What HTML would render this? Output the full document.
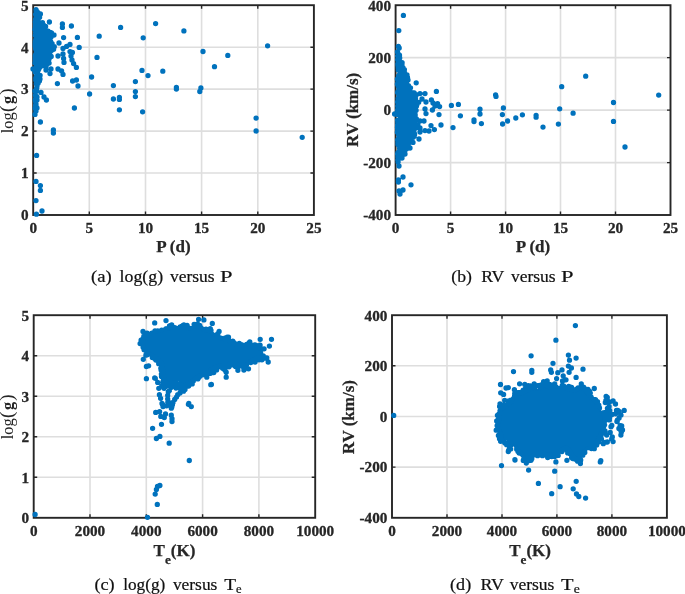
<!DOCTYPE html>
<html lang="en"><head><meta charset="utf-8"><title>Scatter plots: log(g) and RV versus P and Te</title>
<style>html,body{margin:0;padding:0;background:#fff}svg{display:block;will-change:transform}text{font-family:'Liberation Serif','Times New Roman',serif}</style></head><body>
<svg width="685" height="594" viewBox="0 0 685 594">
<rect width="685" height="594" fill="#fff"/>
<g id="plot-a">
<path d="M89.3 5.2V215M145.5 5.2V215M201.6 5.2V215M257.8 5.2V215M33.2 173H313.9M33.2 131.1H313.9M33.2 89.1H313.9M33.2 47.2H313.9" stroke="#dedede" stroke-width="1.6" fill="none"/>
<path d="M89.3 215v-3.5M89.3 5.2v3.5M145.5 215v-3.5M145.5 5.2v3.5M201.6 215v-3.5M201.6 5.2v3.5M257.8 215v-3.5M257.8 5.2v3.5M33.2 173h3.5M313.9 173h-3.5M33.2 131.1h3.5M313.9 131.1h-3.5M33.2 89.1h3.5M313.9 89.1h-3.5M33.2 47.2h3.5M313.9 47.2h-3.5" stroke="#262626" stroke-width="1.4" fill="none"/>
<rect x="33.2" y="5.2" width="280.7" height="209.8" fill="none" stroke="#262626" stroke-width="1.9"/>
<path d="M36 9.6h0M40.4 14h0M49.4 22h0M62.4 24h0M62.4 27.4h0M71.4 26h0M63.6 37.6h0M77.4 37.4h0M99.2 36.2h0M120.6 27.4h0M155.6 23.6h0M143.2 37.8h0M79.2 47.4h0M97 57.4h0M70 44.4h0M66.6 46.4h0M63 48.4h0M59 43h0M54 35h0M70 51.6h0M72.4 52.4h0M71 56h0M72 60h0M73.6 63.6h0M76.4 67.4h0M63 54h0M63.6 58.4h0M64 62.4h0M58 56h0M58 69h0M61.6 71h0M63 74.4h0M51 69h0M50 73.6h0M46 70h0M33 69h0M91.6 77h0M72.6 81h0M76.4 80h0M78 86h0M57.4 83.6h0M113.4 85.6h0M135.4 81.6h0M142 70.4h0M148 75.6h0M162.8 71.2h0M89.6 94h0M113.4 99h0M119.4 97.4h0M119.4 99.4h0M135.4 91.6h0M135.4 96.6h0M74.4 108h0M119.4 109.8h0M142.6 111.8h0M41 92.4h0M44 97h0M46.4 100h0M37 97h0M37 100h0M40 79h0M37 86h0M36 105h0M37 108h0M36 111h0M35 114.4h0M40.4 122h0M53.4 130h0M53.4 133h0M36.6 155.4h0M36 181.4h0M40.4 185.6h0M40.4 190.4h0M36 200.6h0M42 211h0M36.4 214.2h0M183.9 30.9h0M203 51.5h0M227.8 55.4h0M214.5 66.7h0M176.4 87.3h0M176.4 89.1h0M200.9 88h0M199.8 91.5h0M267.6 45.8h0M256.1 118.1h0M256.1 131h0M302.2 137.3h0M38 59.8h0M36.5 38.8h0M36.5 89.8h0M38 32.6h0M35.5 55h0M42.3 36.2h0M40 31.4h0M47.3 48.6h0M48.5 47.2h0M35 29.3h0M36.2 71.6h0M47.5 35.4h0M36.4 41.7h0M36.9 33h0M36.6 14.2h0M43.9 53.3h0M37.1 73.1h0M36.9 50.6h0M38.4 35.4h0M38.4 47.9h0M38.4 34.2h0M47.4 41.4h0M36.4 66.9h0M38.9 68.8h0M40.9 53.9h0M37.9 23.7h0M39 27.3h0M35.6 105.2h0M44.5 37.8h0M36.1 31.2h0M44.8 36.4h0M35.3 35.3h0M37.8 45.4h0M37.2 11.7h0M35.3 99.9h0M35.3 72.3h0M36.2 63.2h0M45 46.7h0M36.3 72.7h0M46.7 47.4h0M36.3 83.8h0M35.5 68.8h0M42.7 31.4h0M46.2 58.3h0M38.2 25.3h0M38.2 51.6h0M49.1 46.9h0M44.3 40.1h0M37.2 58.2h0M39.4 25.2h0M42.2 35.9h0M38.4 49.9h0M45 58h0M36.2 11.4h0M35.3 21.9h0M37.3 12.9h0M45.1 53.2h0M42.6 26.2h0M35.2 55.8h0M39.4 43.1h0M37.1 53.9h0M48.7 43.3h0M36.3 52.6h0M37.2 23.2h0M38.5 61.3h0M45.2 60.9h0M40 46.6h0M44.2 28.5h0M43.6 58.9h0M44 57.7h0M43.6 49.9h0M39.3 55.9h0M37 51.9h0M42.6 40.2h0M38.1 70.5h0M38.1 31.1h0M46 40.7h0M36.7 81.9h0M37 59.7h0M39 28.1h0M43.5 52.2h0M41 49.9h0M49.4 40h0M48.3 50.7h0M35.3 28.5h0M38 15.3h0M36.7 12h0M43.8 60.1h0M38 28.8h0M36 104.1h0M40.2 55.3h0M43.2 51.6h0M37.9 54h0M46.8 49.1h0M38.1 24.8h0M45.1 49h0M44.6 59h0M48 49.1h0M47.2 49.1h0M40.5 55.5h0M35.2 44h0M45.7 42.3h0M43.5 47.5h0M39.1 48.7h0M35.8 27.9h0M43.8 59.4h0M35.7 102h0M37.6 55.8h0M37.7 58.1h0M40.8 37h0M36.2 99.5h0M41.9 56.3h0M46.6 55.4h0M45 54.1h0M38.3 13.4h0M42.3 34.6h0M44.3 50.5h0M46.7 32.2h0M40.7 35.6h0M35.6 14.3h0M39.3 51.1h0M36.4 76.4h0M41 56.4h0M38.4 42.8h0M36.2 20.3h0M41.8 34.2h0M48 45.4h0M40.2 63.5h0M41.8 45.4h0M36.6 96.4h0M36.3 16.6h0M44 57.1h0M46 38.3h0M36.3 38.8h0M39.5 22.6h0M47.8 38.9h0M40.1 48.5h0M39 44.7h0M40.8 44.8h0M41.3 47.3h0M38.1 65h0M49.1 36.6h0M35.4 60.2h0M36.3 16.4h0M36.4 72.1h0M37.3 83.4h0M45.4 32.9h0M41.3 42.3h0M42.9 62.4h0M49.6 49.6h0M47.8 50.7h0M41 25.1h0M38.3 51h0M35.9 39.3h0M36.8 73.5h0M36 54.4h0M35.6 19.2h0M38 30.1h0M44.5 30.8h0M38 36.5h0M40 63.5h0M48.1 56.5h0M49.6 42.7h0M42.7 30.5h0M35.8 103.7h0M47.8 47h0M43.4 60.2h0M45.5 32.2h0M35.2 55.8h0M37.5 24h0M40.1 34.3h0M39.3 62.1h0M35 91h0M36.3 35.4h0M42.7 55.4h0M48.7 38.8h0M47.6 50.2h0M43.7 61.2h0M40 39.5h0M36.2 39h0M36.7 47.9h0M35.2 46.2h0M46.4 32.1h0M44 54.4h0M35.2 108.2h0M44.9 37.5h0M41 62.6h0M39.8 42.2h0M39.1 28.4h0M46.7 41.4h0M46.6 41.6h0M37.3 17.7h0M37.9 48.7h0M36.4 31h0M37.5 20.7h0M41.2 41.6h0M35.3 41.6h0M36.7 46.3h0M40.6 58.6h0M37.3 80.1h0M36.3 32.9h0M40.8 54.9h0M44 34.8h0M38.9 66h0M35.5 26.4h0M45.5 39.2h0M38.2 55.4h0M37.3 47.1h0M43.3 34.8h0M44.1 41.7h0M42.5 49.7h0M41.5 51.9h0M43.4 61.1h0M47 38.9h0M37 53.3h0M43 48.2h0M35.8 78.2h0M43.4 32.3h0M39.9 48.1h0M36.6 88.1h0M37 62.4h0M38.9 38.4h0M41.4 44.1h0M35.5 98.8h0M39.9 58.4h0M42.6 29h0M48.4 43.9h0M42.6 25.5h0M35.8 18.9h0M46.6 39.7h0M38.6 39.2h0M37.9 31.9h0M38.7 38.5h0M42 61.5h0M44.6 36.9h0M36.4 36.9h0M47.1 33h0M39.5 63.4h0M43 26.3h0M44.7 31.9h0M38.8 57.5h0M38.5 66.7h0M37.9 23.5h0M35.3 58.2h0M42 52.7h0M36.2 99.7h0M37.3 39.5h0M35.7 39.9h0M44.9 61.2h0M39.2 67.5h0M36.4 90.9h0M37.7 33.9h0M37.6 77.8h0M36 49.6h0M40.8 30h0M35.6 32.5h0M41.3 38.2h0M35.5 108.6h0M38.7 33.7h0M43.8 32.6h0M40.8 42.2h0M35.6 48.8h0M38.4 43.2h0M37.9 63.6h0M37.6 28.7h0M38.4 55.3h0M39.9 53.3h0M46.1 44.8h0M37.9 34.6h0M46.4 35.3h0M40.8 23.7h0M50 44.5h0M40.2 46.9h0M36.3 97.1h0M41.3 32.2h0M35.7 23.4h0M40 50.9h0M46.3 34.4h0M37.4 28.8h0M41.5 47.2h0M39.7 43h0M35.4 71.7h0M41.8 47.8h0M36 46.8h0M40.3 58.3h0M39.5 24.2h0M41.4 56.1h0M37.7 75.3h0M38.8 17.6h0M40.5 50.8h0M37.4 66.9h0M41.3 44.9h0M36 49h0M35.9 58.2h0M44.4 55.5h0M40.2 33.7h0M35.4 43.2h0M38 55.5h0M41.6 50.1h0M49.1 46.7h0M37.2 59.3h0M39.9 44.5h0M38.1 31.2h0M45.9 31.8h0M35 63h0M41.3 32.3h0M37.6 70.9h0M40.9 37h0M38.8 33.3h0M40.2 26.1h0M36 15.1h0M36.6 79.2h0M36.8 53.7h0M47.4 56.7h0M39.1 59.4h0M47.7 47.7h0M46.5 33.6h0M46.5 41.1h0M44.1 50.6h0M37 46.2h0M45.7 31.5h0M46 50.5h0M45.1 48.2h0M35.8 80.1h0M36.9 12.5h0M43.7 56.9h0M41 39.4h0M39.5 47.7h0M37.8 19h0M45 35.8h0M38.6 56.8h0M40.9 34.4h0M35.8 14.7h0M49.3 39.4h0M36.3 26.6h0M42.7 50h0M47.9 48.1h0M35.9 63.7h0M35.4 25.2h0M36.9 15.7h0M40 60h0M35.2 29.4h0M50.2 48.7h0M46.3 33.4h0M44.2 31.1h0M41.2 45.4h0M40.7 36.3h0M49.5 40.6h0M36.5 41.9h0M36.7 22.6h0M40.6 51.6h0M35.2 58.9h0M41.5 40.6h0M38.5 49.3h0M37.9 44.2h0M45.2 46.3h0M46 53.9h0M45.6 50.5h0M41.2 31.4h0M45 53.2h0M46.8 39.7h0M42.9 31.8h0M42.3 62.3h0M36.2 64.1h0M47.6 57.7h0M35.6 43.1h0M36.9 26.5h0M36.2 107.8h0M40.4 40h0M45.1 36.3h0M37.9 21.1h0M46.1 55.2h0M37.1 19.9h0M40.7 28h0M46.8 44.5h0M40 49.4h0M37.3 71.8h0M41.5 54.2h0M38.8 66.6h0M45.8 54.1h0M49.9 47.3h0M41.7 36.6h0M45.8 32.9h0M41.7 42.6h0M36.4 44.8h0M45.7 42.9h0M35.4 72h0M42.5 44.7h0M42.4 40.1h0M36.1 54.8h0M38.4 45.5h0M37.3 48h0M37.7 73.6h0M36.9 55.4h0M35.3 94.9h0M35.4 43.6h0M43.6 62h0M36.8 87.8h0M39.8 59.3h0M37 65.4h0M45.5 62.6h0M37.2 40h0M49.4 58.1h0M47 62.9h0M39.6 45.2h0M38.1 75.5h0M38.3 65h0M43.1 42.4h0M38.1 83.2h0M39 43.9h0M39.4 35h0M40.1 75.3h0M44.2 43.5h0M47.7 48.1h0M43.4 39.1h0M39 28.8h0M43.5 50.9h0M51.6 50h0M37.5 75.8h0M44.7 51.5h0M41 44.2h0M38.8 54h0M40.2 65.7h0M37.7 32.1h0M43.2 61h0M37.9 46.7h0M40.8 32.6h0M43.6 25.1h0M37.1 31.5h0M50.9 37.3h0M37.7 59.5h0M41.1 52.2h0M45.6 60.2h0M46.3 65.7h0M42.1 30.4h0M39.4 80.9h0M44.6 29.3h0M47.1 60h0M50.7 43.4h0M51.2 56.4h0M43.3 39.5h0M50.2 55.1h0M37.3 66.8h0M43.4 35h0M46.7 59.8h0M39.2 52.7h0M49.6 41.5h0M41.4 42.6h0M42.8 64.8h0M39.6 17.2h0M42.6 65.7h0M37.5 49h0M49 37.3h0M41.3 36.2h0M43.5 32.4h0M40.6 44.6h0M46 65.8h0M39.9 47.2h0M41.5 46.8h0M41.1 53h0M50.7 41.6h0M49.1 63.1h0M49.3 38h0M50.2 35.8h0M46 38.9h0M41.1 53.5h0M51.5 32.9h0M39.3 61.3h0M51.1 43h0M48.1 31.1h0M44.3 40.4h0M43.9 42h0M40.7 30.4h0M38 76.8h0M37.4 34.7h0M37.2 23.7h0M39.9 67.3h0M42.3 25.2h0M40.3 35h0M38.8 64.8h0M46.7 45.9h0M46.5 62.1h0M51.4 50.4h0M48.4 47.4h0M48.4 41.1h0M44.5 51.3h0M49.9 32.3h0M53.6 49.3h0M44.7 42.5h0M38.1 18.7h0M38.5 14.5h0M37.2 30h0M39 64.8h0M45.6 26.5h0M50.6 43.9h0M46.8 35.3h0M47.8 63.5h0M37.2 28.3h0M43.1 40.5h0M48.2 52.9h0M43.5 28.4h0M43.9 59h0M39.3 53.3h0M41.5 43.5h0M38.8 69h0M46.9 57.7h0M47.4 40.3h0M42.6 38.4h0M46 46.8h0M40.1 42h0M40.7 35.8h0M43.6 38h0M43 62.6h0M44.2 51.3h0M40.1 45.1h0M41.2 25.7h0M48.5 61h0M47.6 48.3h0M54.3 46.7h0M45.4 38.8h0M41.3 52.1h0M50.1 50.1h0M48.9 59.3h0M49.9 38.4h0M52.1 43.7h0M42.7 30.7h0M37.9 19.3h0M42.5 22.7h0M39.2 76.6h0M43.8 49.2h0" stroke="#0072bd" stroke-width="5.3" stroke-linecap="round" fill="none"/>
<g font-size="15.2" font-weight="bold" fill="#262626" stroke="#262626" stroke-width="0.3">
<text x="33.2" y="233" text-anchor="middle">0</text>
<text x="89.3" y="233" text-anchor="middle">5</text>
<text x="145.5" y="233" text-anchor="middle">10</text>
<text x="201.6" y="233" text-anchor="middle">15</text>
<text x="257.8" y="233" text-anchor="middle">20</text>
<text x="313.9" y="233" text-anchor="middle">25</text>
<text x="28.6" y="220.3" text-anchor="end">0</text>
<text x="28.6" y="178.3" text-anchor="end">1</text>
<text x="28.6" y="136.4" text-anchor="end">2</text>
<text x="28.6" y="94.4" text-anchor="end">3</text>
<text x="28.6" y="52.5" text-anchor="end">4</text>
<text x="28.6" y="10.5" text-anchor="end">5</text>
</g>
</g>
<g id="plot-b">
<path d="M450.6 5.2V215M505.6 5.2V215M560.5 5.2V215M615.5 5.2V215M395.6 162.6H670.5M395.6 110.1H670.5M395.6 57.6H670.5" stroke="#dedede" stroke-width="1.6" fill="none"/>
<path d="M450.6 215v-3.5M450.6 5.2v3.5M505.6 215v-3.5M505.6 5.2v3.5M560.5 215v-3.5M560.5 5.2v3.5M615.5 215v-3.5M615.5 5.2v3.5M395.6 162.6h3.5M670.5 162.6h-3.5M395.6 110.1h3.5M670.5 110.1h-3.5M395.6 57.6h3.5M670.5 57.6h-3.5" stroke="#262626" stroke-width="1.4" fill="none"/>
<rect x="395.6" y="5.2" width="274.9" height="209.8" fill="none" stroke="#262626" stroke-width="1.9"/>
<path d="M403.4 15.4h0M398.8 30.6h0M398.4 46.4h0M402 64h0M404.4 69.6h0M407 77h0M408 80h0M416.2 82.8h0M436.4 91.4h0M420 93.6h0M425 93.6h0M416 95.6h0M422 99h0M426 102h0M431.4 100h0M433 103h0M437.6 103.6h0M439.6 106.6h0M435 106h0M432.4 110h0M425 109h0M426 113.6h0M415 114h0M439 114.6h0M451.4 105.4h0M458.4 104.4h0M460.4 115.8h0M480 109.2h0M480 114h0M495.6 95h0M496 96.4h0M503.4 108h0M502.4 114.6h0M522.4 114.8h0M515.8 118h0M394.6 114h0M507.6 121h0M502.6 124h0M481.4 123.6h0M474 120h0M474 121.6h0M453 127.6h0M441 125h0M434.4 129.6h0M431 125.6h0M429 131h0M425 130.6h0M420 128h0M420 132h0M424 121h0M420 121h0M419 139h0M413 142.4h0M410 148h0M405 154h0M402 158h0M399 166h0M403 177h0M398.4 180h0M398.4 182h0M411 184.8h0M403 190h0M399 191h0M400 194h0M536.1 115.5h0M536.1 117.2h0M543 127.1h0M558.4 124.1h0M559.7 108.8h0M561.7 86.7h0M573.1 113.2h0M585.7 76.2h0M613.5 102.5h0M613.5 121.4h0M625 147h0M658.7 95.1h0M412 116.7h0M402.6 68.8h0M411.5 115.9h0M409 119.5h0M402.6 139.7h0M399.8 145h0M398.2 109.8h0M397.9 157h0M405.8 108.1h0M404.2 125.3h0M403.6 115.9h0M402.3 117.5h0M406.4 98h0M408.6 109.4h0M403.3 97.8h0M413.2 107.4h0M406.5 87.9h0M402.8 88.9h0M406.3 141.5h0M404.2 145.4h0M412.7 101.3h0M411.5 105.8h0M406.1 116.1h0M405.3 133.3h0M397.7 106h0M400.2 129h0M404.6 78.3h0M398.1 162.1h0M401 76.6h0M403.1 134.2h0M398 91.3h0M400.8 104.8h0M403.7 136h0M409.3 101.7h0M401.5 73.7h0M412.2 123.5h0M398.3 105.9h0M403.1 149.7h0M403.7 122.8h0M400.3 142.3h0M412.2 112.2h0M403.4 147.8h0M411.3 107.2h0M403.7 74.3h0M399.9 112.9h0M411.8 117.8h0M406.2 138.1h0M397.8 159.8h0M398.5 67.4h0M407.7 134.8h0M402.1 74.6h0M398.4 157.1h0M404.8 85.9h0M400.3 103.2h0M404.3 88.5h0M398.1 160.1h0M399.5 74.7h0M405.4 142.2h0M403 91.7h0M412.6 115.9h0M405 121.7h0M398.2 128.3h0M410.8 126.5h0M403.4 80.3h0M397.6 55.8h0M400 100.4h0M405.2 122.3h0M412.7 116.2h0M402.4 74.7h0M403 93.8h0M401.7 150.2h0M406.2 127.8h0M406.9 118.2h0M401.4 112.5h0M403.3 141.8h0M408.7 131.7h0M403.6 123.9h0M404.7 143h0M399.1 90.5h0M398.8 106.2h0M401.6 99.3h0M404.9 129.7h0M400.4 149h0M398.2 60.8h0M398.6 145.2h0M404.5 133.9h0M401.2 142.4h0M403.1 113.2h0M399.8 154.7h0M412.8 107.4h0M404.9 92.2h0M398.6 120.3h0M402.2 119.6h0M402.1 123.1h0M398.1 144h0M402.6 145.9h0M397.7 59.6h0M401.7 136.9h0M410.6 121.7h0M402.5 125.7h0M398.8 102.3h0M401.1 68.6h0M397.6 153.9h0M410.8 109h0M412.1 103.4h0M397.8 64h0M402.6 149h0M401.2 88.3h0M412.2 103.8h0M404.5 137.9h0M403.1 76.8h0M399.4 81.4h0M401.3 134.2h0M403.3 130.8h0M402.5 93.1h0M400.9 64.7h0M398.2 104.4h0M404.3 138.2h0M397.4 132.2h0M405.5 101.7h0M406.6 106.4h0M407.3 127.2h0M408.9 106.9h0M402.5 142.1h0M404.4 146.1h0M399 59.4h0M403.9 75.8h0M402.3 117.8h0M402.8 78h0M401.9 138h0M398.6 134.7h0M404.3 135.3h0M410 135.3h0M403.6 144.1h0M405.5 108.9h0M403.3 104h0M405.6 128.2h0M406.5 128.1h0M407.3 117.3h0M404 96.3h0M406.9 90h0M397.7 125.4h0M409.9 132.8h0M404.1 102h0M398.2 67.8h0M400.9 71.8h0M398.9 56.3h0M409.9 107.8h0M399.6 140.1h0M399.5 55.2h0M402.6 149.6h0M400.7 107.9h0M406.4 132.7h0M401.2 115.2h0M402.1 68.1h0M404.9 142.4h0M406.6 88.6h0M401.1 89.1h0M404 78.6h0M402.6 73.3h0M402.3 126.8h0M407.8 121.2h0M412.7 125.9h0M399.6 94.4h0M406.1 135.6h0M405.3 124.6h0M410.4 99.5h0M405.8 136h0M399.2 108.8h0M407.3 113.2h0M397.8 82.6h0M407.1 98.8h0M412.3 121.7h0M403.7 94h0M399.1 114.1h0M410.4 105.8h0M409 134.6h0M402.9 122.5h0M400.4 125.5h0M404.5 120h0M405.5 131.8h0M402.4 99.6h0M407.9 109.8h0M409 93.5h0M411.5 104h0M407.6 95.6h0M398.9 128.5h0M402.8 98.2h0M404.8 80.8h0M412.1 103.4h0M398.1 122h0M403.7 123.4h0M405.8 109.6h0M398.9 77.4h0M405.4 116.8h0M402.1 95.7h0M405.8 136.2h0M412.3 109.7h0M407.9 123.5h0M399.5 132h0M403.8 79.6h0M399.1 155.3h0M412.2 109.4h0M400.2 114.9h0M403.6 89.6h0M408.7 102.2h0M399 138.7h0M401.4 94.3h0M398.5 122.9h0M400.4 155.3h0M411 110.1h0M397.5 127.5h0M399.6 152.2h0M397.7 129.7h0M402.2 150.4h0M405.1 131.5h0M398.2 139.2h0M400.7 97.5h0M405.5 85h0M401.4 99.7h0M398.3 64.9h0M399.6 148.5h0M404.7 104h0M408.6 104.8h0M401.8 133.9h0M401 92.1h0M397.8 84.8h0M400.6 93.4h0M398.3 70.1h0M410.8 129.4h0M409.1 99.9h0M402.8 123.9h0M401.5 133.6h0M399.4 113.5h0M406.9 110.1h0M398.7 112.8h0M399.5 109.2h0M408.7 130.5h0M397.6 109.8h0M400.3 106.8h0M405.6 104.6h0M400.7 121.8h0M400 142h0M402.3 124.6h0M397.7 130.1h0M402.6 145.5h0M398.7 87h0M407.9 108.5h0M404.3 82.7h0M403.8 99.9h0M397.7 140h0M412 101.6h0M407.8 110h0M404.8 100.8h0M397.9 113.3h0M398 121h0M411.1 97.6h0M398.8 123.4h0M410.9 111.2h0M403.4 125.5h0M397.6 101.9h0M399.5 128.9h0M405.4 144.2h0M404.8 132.3h0M399.8 136.7h0M410.3 126.6h0M400.2 85.5h0M402.1 81h0M407.1 89.5h0M407.5 115.5h0M404.6 134.2h0M404.7 88.5h0M411.8 108.7h0M409.2 124.1h0M399.5 91.7h0M405.1 94h0M403.7 78h0M402.8 69.3h0M405.7 122.4h0M405.4 93h0M412.1 116.9h0M400.6 82.8h0M403.9 113.9h0M403.7 77.9h0M406.3 132.9h0M405.5 109.6h0M407.9 121.9h0M399.1 124.8h0M400.6 131.6h0M404.4 146.3h0M404.5 96.2h0M409.5 123.4h0M397.9 152.7h0M399.2 48h0M403 69.3h0M401.4 104.2h0M405.8 127.6h0M411.8 129.4h0M411.8 97.7h0M399.9 131.2h0M407.6 92.4h0M405.3 89h0M403.5 135.2h0M397.4 79.1h0M397.6 120.2h0M401.8 84.1h0M403.6 130.1h0M400.6 80.5h0M398.8 94.9h0M407.2 118.1h0M408.1 110.4h0M412.8 103.6h0M399 139.2h0M397.5 52h0M409 118.9h0M397.6 114.4h0M402.8 73.9h0M397.9 142.6h0M400.3 66.6h0M406.7 98.3h0M398.6 54.4h0M402 143.8h0M412 109.8h0M398.8 120.9h0M412.8 114.3h0M404.6 99.3h0M405.6 95.7h0M404.6 124h0M406.6 91h0M397.7 92.4h0M402.1 139.1h0M399.7 57.9h0M398.6 75.8h0M398.8 130.6h0M399.7 97.9h0M408.3 99h0M402.2 100.4h0M405 115.4h0M413.4 120.3h0M400.6 70.3h0M400 98h0M411 111.9h0M401.8 100.4h0M398.3 122.1h0M403.3 129.4h0M405.7 104.9h0M400.1 66.9h0M399.3 68.8h0M399.9 124.1h0M412.2 117.8h0M401.2 112.2h0M405.5 91.9h0M401.9 113.3h0M408.1 131.9h0M412.6 124.3h0M408.2 127.9h0M408.6 129.3h0M398.3 111.8h0M412.1 105.9h0M401.4 120.7h0M398.2 124h0M401.6 78.9h0M400.6 120.4h0M410.9 100.9h0M408.6 105.5h0M409.9 95.8h0M410 93.3h0M400 126.9h0M398.8 57.9h0M402.4 118.7h0M400 119.6h0M404.4 115h0M399.3 90.2h0M409.4 101.1h0M403.7 99.4h0M401 134.3h0M408.3 118.9h0M404.1 86.3h0M397.6 124.9h0M408.2 133.7h0M399.5 139.7h0M407.4 116.9h0M408.2 120.1h0M399.9 63.8h0M397.4 84.1h0M401 117.4h0M399 61.6h0M406 140.4h0M408.6 120.2h0M400.2 101.1h0M404.8 122h0M407.2 137.6h0M398 101.6h0M400.1 105h0M398.6 155.1h0M412.3 112.8h0M405 102.2h0M400.8 98.8h0M405.8 81.7h0M398 120.3h0M410.2 102.2h0M401.5 104.5h0M402.2 105.6h0M397.9 65.3h0M412.7 101.9h0M408.5 136h0M414.3 120.2h0M411.6 123.7h0M413.8 96.2h0M409.8 128h0M407.6 134.3h0M410.2 104.8h0M401.3 91.3h0M399.9 66.7h0M398.2 86h0M404.5 96.3h0M403.6 89.2h0M414.2 115.8h0M403 67.7h0M414.3 133.1h0M398.6 101.4h0M397.9 144.2h0M413.6 93.7h0M401.6 64.3h0M407.5 77.4h0M402.1 67.3h0M402.9 102h0M416.9 104.5h0M404.8 153.3h0M412.3 101h0M403.8 100.6h0M414.1 116.7h0M399.7 124.8h0M404.6 117h0M409.5 115.1h0M402.5 117.1h0M407.6 105h0M405.5 141.6h0M400.5 150.5h0M401.8 130.2h0M401.1 105h0M412.5 108.3h0M412.3 114.8h0M409.4 113.3h0M403.8 154h0M399.3 151.6h0M416.1 110.3h0M414.2 129.4h0M410.5 87.8h0M404.3 94.1h0M404.8 98.2h0M406.5 145h0M407.7 116.4h0M402.9 86.3h0M399.3 79.7h0M403.1 148.9h0M409.6 104.2h0M398.3 144h0M403.4 95.5h0M400.6 147.3h0M399.4 136.5h0M405.9 130.1h0M417.2 127.4h0M397.8 122.6h0M400.4 135.8h0M407.5 133.3h0M409.7 140h0M415.1 121.7h0M410.2 91.6h0M400.3 66.1h0M406.6 90.5h0M410.8 114.1h0M416 103.5h0M405.2 127h0M404.1 152.6h0M400.2 97.4h0M398.3 99.1h0M404.2 102.6h0M415.2 120.2h0M406.4 82.8h0M404.2 129.1h0M407 74.9h0M415.1 118.7h0M410.9 102.6h0M415.5 98.7h0M398.1 98.6h0M412.7 128.9h0M403.3 74.4h0M410.1 112.1h0M398.9 107.6h0M400.5 125.9h0M404.1 123.7h0M413.6 122.1h0M403.2 87h0M408.1 115.5h0M414.5 118.1h0M399.8 146.2h0M399.1 64.9h0M414.6 134.5h0M408.5 85.7h0M401.7 136.1h0M402.1 62.7h0M409.7 118.3h0M414.6 125.4h0M400.4 142.9h0M405 119.6h0M406.4 149h0M399.2 91.6h0M411.9 122.7h0M400.5 71.2h0M410.7 102.6h0M408.3 144.2h0M408.7 114.5h0M403.2 121.4h0M400.2 111.4h0M405.1 78.4h0M402.8 96.3h0M416.5 106.1h0M400.8 116h0M414.2 136.2h0M400.7 117.2h0M411.2 138.7h0M413.3 106.6h0M414.2 92.8h0M399.4 102.7h0M407.8 142.4h0M406.1 128.6h0M405.5 135.9h0M401.2 151.9h0M417.9 125.1h0M403.8 113.8h0M411.1 123.7h0M406 136.6h0M410.4 99.9h0M404.7 72.8h0M397.6 92.6h0M407.9 94.2h0M403.3 68.7h0M418.7 102.3h0M399.4 124.3h0M413.2 137.3h0M413.2 93h0M409.1 120.1h0M405.5 90.3h0M398.7 68.6h0M399.9 103.4h0M416.1 94.7h0M399.6 129h0M404.6 118.3h0M413.5 105.7h0M413.2 123.5h0M403.5 111h0M415.2 115h0M407.7 135.2h0M406.9 81h0M416.5 127.6h0M416.4 118.9h0M410.1 138.7h0M410.6 103.4h0M401.8 98.2h0" stroke="#0072bd" stroke-width="5.3" stroke-linecap="round" fill="none"/>
<g font-size="15.2" font-weight="bold" fill="#262626" stroke="#262626" stroke-width="0.3">
<text x="395.6" y="233" text-anchor="middle">0</text>
<text x="450.6" y="233" text-anchor="middle">5</text>
<text x="505.6" y="233" text-anchor="middle">10</text>
<text x="560.5" y="233" text-anchor="middle">15</text>
<text x="615.5" y="233" text-anchor="middle">20</text>
<text x="670.5" y="233" text-anchor="middle">25</text>
<text x="391" y="220.3" text-anchor="end">-400</text>
<text x="391" y="167.9" text-anchor="end">-200</text>
<text x="391" y="115.4" text-anchor="end">0</text>
<text x="391" y="62.9" text-anchor="end">200</text>
<text x="391" y="10.5" text-anchor="end">400</text>
</g>
</g>
<g id="plot-c">
<path d="M90 315.2V517.8M146.3 315.2V517.8M202.6 315.2V517.8M258.9 315.2V517.8M33.7 477.3H315.2M33.7 436.8H315.2M33.7 396.2H315.2M33.7 355.7H315.2" stroke="#dedede" stroke-width="1.6" fill="none"/>
<path d="M90 517.8v-3.5M90 315.2v3.5M146.3 517.8v-3.5M146.3 315.2v3.5M202.6 517.8v-3.5M202.6 315.2v3.5M258.9 517.8v-3.5M258.9 315.2v3.5M33.7 477.3h3.5M315.2 477.3h-3.5M33.7 436.8h3.5M315.2 436.8h-3.5M33.7 396.2h3.5M315.2 396.2h-3.5M33.7 355.7h3.5M315.2 355.7h-3.5" stroke="#262626" stroke-width="1.4" fill="none"/>
<rect x="33.7" y="315.2" width="281.5" height="202.6" fill="none" stroke="#262626" stroke-width="1.9"/>
<path d="M35.1 514.5h0M147.5 517.3h0M157.3 504.4h0M155.2 494.1h0M156.4 489.5h0M157.5 486.4h0M159.9 485.5h0M189.3 460.5h0M169.2 443.2h0M156.4 438.5h0M159.9 436.4h0M152.6 428.3h0M161.5 424.3h0M172 421.5h0M172 418.7h0M171.3 415.2h0M164.3 417.5h0M160.8 416.4h0M165.5 414h0M159.6 411.7h0M155.7 412.4h0M171.3 408.2h0M166.6 405.8h0M163.1 406.5h0M172.5 403.5h0M167.8 402.3h0M162 403.5h0M188.8 403.5h0M188.4 404.3h0M191.3 406.6h0M155.3 378.3h0M157.7 382.4h0M158.8 388.3h0M159.4 394.7h0M160.6 398.3h0M162.4 404.2h0M163 406.5h0M164.1 388.3h0M168.3 391.8h0M169.4 390.6h0M167.7 395.3h0M167.7 398.9h0M168.3 401.8h0M171.2 405.3h0M171.8 407.1h0M183.6 391.2h0M180 393h0M177.7 394.7h0M176.5 397.1h0M174.7 399.5h0M173 402.4h0M172.4 404.8h0M161.8 386h0M165.5 386.5h0M171 387.5h0M176 388h0M180.5 389h0M185 389.5h0M154.7 322.9h0M166 320.6h0M198.6 319.3h0M203.9 319.9h0M212.3 323.4h0M219.1 331.4h0M143 331.5h0M143.3 359.3h0M146.4 366.5h0M148.6 365.8h0M146.4 378.7h0M154.7 377.9h0M210.8 384.7h0M213.8 372.6h0M260.2 339.3h0M271.5 339.3h0M269.4 346.1h0M268.2 362h0M248.5 368.8h0M243.9 370h0M237.9 370.3h0M225 370.3h0M226.2 377.2h0M211.4 384.4h0M206.8 377.2h0M226.2 372.2h0M212.6 364h0M222.7 363.1h0M207.4 352.3h0M179.2 343.8h0M194.7 377.4h0M177.1 337.8h0M157.1 344.6h0M171.9 341.5h0M179.6 349.1h0M164.8 331.4h0M234.6 359.5h0M157.2 333.8h0M156.7 344.3h0M149 341.7h0M167 336.6h0M223 353.1h0M200.6 346.9h0M180.1 328.9h0M201.6 348.2h0M209.1 352.2h0M181 380.1h0M203.3 362.8h0M199.3 350.9h0M204.8 340.8h0M191.1 374.7h0M182.2 331.1h0M164.8 369h0M219.1 342.4h0M195.7 375.1h0M235 361.2h0M170.1 330.3h0M175.4 361h0M213 336.9h0M237.7 360.4h0M170.1 331.5h0M187.3 374.5h0M218.6 344.9h0M157.7 345.3h0M183.9 355.5h0M197.7 337.1h0M152 337.2h0M157.7 330.8h0M193.3 332.6h0M241.2 358.5h0M198.9 364.4h0M151.6 345.6h0M186.7 340.3h0M179.9 376.6h0M189.4 342.1h0M147.1 334.5h0M183 375.1h0M146.9 339.3h0M240.5 356.7h0M239.8 348.6h0M166.6 379.7h0M195.2 375.3h0M177.1 370.1h0M170.9 366.3h0M196.9 349.5h0M161.5 338.2h0M189.5 354.3h0M163.6 351h0M158.6 357.1h0M253.5 357.7h0M189.3 361.2h0M203.1 356.2h0M180.4 358.3h0M209.3 342.2h0M171.1 340.4h0M179.6 378.2h0M179.5 376.2h0M197.7 376h0M172.3 362.1h0M185.3 332h0M145.7 344.3h0M209.8 342h0M244.1 365.1h0M182.6 365.1h0M185.4 342.6h0M193.7 344.3h0M253.9 351.6h0M205.2 346.7h0M173.4 339.7h0M210.1 370.6h0M225.1 340.7h0M195.4 345.4h0M163.8 375.1h0M188.1 343.3h0M178.6 344.8h0M214.9 344h0M208.3 361h0M181.5 378.7h0M192.9 334.9h0M219.5 342.6h0M162.3 357.8h0M166.7 364.5h0M183.7 369.7h0M235.5 346.2h0M210.1 349.5h0M220 365h0M233.8 348.3h0M241.5 347.3h0M227.8 355.6h0M177.6 364.4h0M252.7 346.9h0M167.9 371.8h0M159.1 331.5h0M172.6 373.9h0M147.6 337.6h0M209.7 371.9h0M203.1 367.5h0M186.5 348.1h0M166.7 346.4h0M222.6 350.2h0M243.3 359.4h0M195 349h0M173.6 347.3h0M155.9 345.4h0M255.2 358.7h0M163.4 354.7h0M191.2 373.4h0M203 329.5h0M191.5 375.1h0M250.2 345.8h0M188.7 363.2h0M156.7 343.7h0M187.9 337.4h0M164.8 365.3h0M180.3 328.1h0M169.6 367.3h0M152.1 338.3h0M162.2 364.6h0M250.4 361h0M169.8 334.7h0M242.3 349.7h0M164.9 351.2h0M150.4 337.4h0M237.9 352h0M181.4 384.5h0M158.2 351.4h0M239.2 361.1h0M201.4 375h0M182.7 352.9h0M249.2 357.5h0M199.6 373.1h0M196.7 350.4h0M233 347.5h0M203.4 349.4h0M199.2 360.8h0M187.9 384.6h0M229.1 348.5h0M211.6 347.1h0M253.3 347h0M183.9 340.9h0M245.8 348h0M184.6 384h0M228.1 345.6h0M181.9 343.9h0M162.8 374.1h0M237.9 348.3h0M195.4 345.5h0M193 368.2h0M260.3 347.9h0M192.1 342.2h0M176.3 347.3h0M190.3 350.4h0M172.1 361.7h0M169.4 340.9h0M176 335.9h0M238 361h0M166.7 364.1h0M171.4 376.2h0M187.7 363.8h0M180.4 343.3h0M214.2 357.3h0M235.2 353h0M252.8 348.4h0M170.8 365.3h0M199.6 352.6h0M232.1 362.4h0M165.6 353.5h0M195.9 333.8h0M234 343.4h0M174.8 345.1h0M180.2 326.9h0M160.4 341.8h0M183.1 369.1h0M213 361.4h0M241.8 358h0M206.9 343.5h0M174.1 358.3h0M192.6 380.6h0M155.3 339.8h0M219.5 347h0M242.2 353.5h0M215 352.9h0M191.8 335.1h0M203.4 341.1h0M179.5 365.2h0M203.9 365.9h0M213.1 362.9h0M173.7 382.3h0M193.5 365.1h0M178.6 356.7h0M226.5 353.5h0M150 349.7h0M172.7 366.2h0M208.3 332.6h0M228.7 340.5h0M184.1 347.9h0M209.5 352.4h0M205.4 364.1h0M164.5 374.5h0M211.8 358.3h0M174.8 378.6h0M165.6 341.7h0M244.4 352.9h0M184.7 346h0M176.5 369.6h0M170.2 329.7h0M248.5 360.4h0M183.4 343.5h0M183.1 353.9h0M213.5 336.9h0M200.9 363.9h0M239.5 359.4h0M206 364.3h0M190.9 360.5h0M204.7 346.2h0M200.2 328.2h0M217.7 339.3h0M174.8 334.1h0M235 352.9h0M213.9 356.5h0M214.7 347h0M174 372.4h0M159.4 346.5h0M169.8 351.4h0M203.9 363.7h0M181.4 349.5h0M169.1 356.2h0M174.1 382.3h0M168.7 338.5h0M184.3 344.9h0M184.5 349.1h0M192.6 331.5h0M169.6 332.9h0M146.1 335.9h0M206 363.5h0M161.5 340.6h0M166.2 328.8h0M144.8 340.1h0M185.5 378.2h0M154.5 352h0M164.2 356.9h0M187.3 345.4h0M165.6 361.2h0M228.5 362.2h0M199.6 370.1h0M168.2 337.6h0M170.4 382.3h0M166.2 351.3h0M178 377h0M202.6 357.5h0M228.1 365.6h0M187.8 339.9h0M153.7 354.3h0M228.8 351.7h0M197.6 374.3h0M240.6 363.4h0M187.7 342.8h0M198.2 345.1h0M205.6 364.9h0M190.4 372.7h0M249.5 354.7h0M229.5 364.5h0M238 364.8h0M213.2 366h0M216 350.7h0M162.9 336h0M175.7 367.3h0M193 375.3h0M181.4 377h0M198.9 348.5h0M183.1 384.8h0M195.6 351.4h0M220.8 355.5h0M214.3 345.9h0M158 348.8h0M237 363.9h0M162.4 349.6h0M197 365.9h0M204.2 357.4h0M188.6 373.5h0M212.1 353.6h0M183 325.4h0M159.7 346.1h0M219.7 363.9h0M183 371.8h0M193.1 350.2h0M177.7 351.1h0M165.3 367.9h0M222.7 340.2h0M184.5 332.7h0M197.9 370.6h0M185.3 343.9h0M172.8 352.1h0M170.5 355.2h0M177.7 367.6h0M187.5 340.8h0M191 337.4h0M144.4 348.2h0M222.7 364.9h0M195.7 336.6h0M159.3 348.3h0M206.2 352.8h0M250.1 351.1h0M162.2 361.5h0M253.2 359.7h0M185.5 337.8h0M159.7 350.4h0M200.3 348.8h0M203.7 343.2h0M204.1 348.9h0M167 347.8h0M214.8 353h0M255.4 352.5h0M169 370.4h0M183.3 348.3h0M177.6 358h0M145 350.1h0M188.2 331.7h0M188.8 328.6h0M202.4 334.7h0M169.1 333.5h0M208.4 364h0M244.8 351.3h0M186.3 332h0M181.2 331.8h0M189.2 354.5h0M174.3 377.9h0M220.8 355.8h0M219.1 359.2h0M192.3 337.2h0M148.4 345.3h0M203.9 340h0M164.4 332h0M227.6 339.5h0M173.3 380.9h0M243.3 352.7h0M177.4 333.2h0M174.6 383h0M181.9 327.2h0M150.4 348.3h0M238.3 347.1h0M171.4 344.9h0M207.9 349.6h0M146.5 346.9h0M250.4 348.2h0M186.5 380.1h0M172.9 362h0M247.5 352.9h0M162.4 334.9h0M159.9 339.1h0M249.9 348.5h0M171.3 357.8h0M145.8 337.7h0M188.2 338.6h0M212.2 357.7h0M178.4 345.2h0M201 353.8h0M172.1 336.9h0M201.9 359.2h0M168 355.6h0M207.3 334.1h0M198.9 336.5h0M159.6 360.3h0M242.2 357.3h0M158.3 335.8h0M249.6 359.6h0M176.2 348.7h0M159.8 360.7h0M166.3 346.5h0M184.3 363.7h0M243.1 353h0M185.6 331.9h0M159.7 341.2h0M220.1 346.7h0M175.9 337.6h0M151.1 353.1h0M219.2 365.3h0M146 338h0M191.6 352.3h0M219.7 346.1h0M183.3 385.9h0M173.1 337h0M148.7 347.8h0M214.9 347.3h0M211.8 364.8h0M191.7 365.6h0M206.4 372.5h0M195.8 368.1h0M188 345.6h0M220.8 352.5h0M187.2 351.8h0M189.5 345h0M188.9 359.7h0M159.1 347.8h0M223.2 347.4h0M199 352.9h0M182.9 355.7h0M220 355.8h0M167.3 341.3h0M196.6 333h0M213.4 340.8h0M231.9 361.6h0M171.4 342.2h0M208.1 362.6h0M252.8 357.8h0M166.4 329.9h0M196.4 375.5h0M176 337h0M212.6 354.4h0M168.6 383.9h0M150 336.5h0M166 356.5h0M168 369.4h0M254.2 354.7h0M201.6 341.3h0M170.8 347.8h0M247 344.5h0M181.1 356.8h0M169.9 340.5h0M197.8 331.6h0M236.7 364.1h0M217.5 356.8h0M208.4 352.2h0M145.2 339h0M212.7 350.9h0M171.2 364.4h0M148.2 339.9h0M243.4 357.6h0M216.5 335.4h0M157.3 356.6h0M215 350.3h0M183.5 360.2h0M184.1 368.2h0M216.1 341.5h0M207.3 351.5h0M151.7 334h0M239.6 365.6h0M178.6 349.7h0M169 327.9h0M176 346.6h0M191.5 330.5h0M239.9 352.4h0M197.1 357.5h0M186.4 378.1h0M178.4 331.9h0M210.1 368.2h0M170.3 357.4h0M246.8 345.4h0M204.1 342.5h0M239.2 362.6h0M192.9 345.7h0M219.4 340.8h0M185.8 344.8h0M182 341.5h0M184.6 383h0M148.5 353.2h0M181.1 364.5h0M161 343h0M177.6 330.3h0M172.9 337.7h0M185.9 344.4h0M193.4 377.5h0M179.1 356.4h0M173.4 366.5h0M233.9 350h0M171.2 344.8h0M182.8 378.3h0M187.2 341.9h0M244.5 356.3h0M172.9 356.4h0M164.8 377.8h0M225.3 338.9h0M208.6 365h0M186.1 332h0M188.6 328.5h0M196 366.1h0M198.4 328.2h0M214.7 348.8h0M169.6 368.9h0M243 362.3h0M167.5 343.7h0M248 349.3h0M188.6 345.6h0M202.8 350.4h0M219.6 349.5h0M196.5 367h0M198.1 344.5h0M203.2 332.7h0M180.5 356.3h0M259.4 353h0M179.2 339.8h0M236.3 355.2h0M171.8 343.3h0M223 346.7h0M225.7 342.3h0M175.1 344.2h0M161.7 330.2h0M226.2 353.7h0M198.1 377.4h0M164 359.4h0M178.3 341.1h0M163.3 345.4h0M195.6 349.7h0M218.6 341.7h0M201.3 329.9h0M198.7 346.7h0M197.2 338.1h0M188.5 366h0M178.4 341.6h0M156 349.8h0M168.8 366.8h0M202.6 338.7h0M205 353.2h0M217.5 359.9h0M216 350.8h0M199 341.3h0M147.9 349.2h0M176.4 355.9h0M229.4 357.9h0M186.6 377.5h0M190.7 361h0M154.4 345.3h0M179.6 366.3h0M161.9 343.3h0M183.7 337.2h0M153.8 340.1h0M242.2 360.2h0M208.6 350.6h0M182.3 336.3h0M190.5 347.9h0M198.7 362.8h0M225.3 360.7h0M164.6 367.4h0M147.1 343.5h0M182.3 331.5h0M165.9 340.8h0M206.1 371.3h0M201.5 375.1h0M146.3 339.9h0M164.5 371.7h0M200.1 327.1h0M200.4 327.1h0M182.4 356.2h0M235.8 357.5h0M165.4 348.9h0M195.9 373.6h0M227.3 360.2h0M170.2 379.3h0M223.1 366.4h0M190.9 341.2h0M182.5 372.3h0M193.9 356.9h0M160.9 339.2h0M183.7 334.9h0M193.2 353.3h0M168 374.9h0M241.4 366.1h0M173.7 369.3h0M154.3 349.6h0M170.9 375.8h0M170.6 354.1h0M143.8 342.5h0M227.9 344.5h0M183.6 345.3h0M164.8 356.2h0M200.2 363.2h0M171.1 358h0M200.4 356.1h0M226.9 347.3h0M229.6 357.7h0M185.4 343.6h0M193.4 370.8h0M203.1 351.2h0M254.5 349.2h0M180.7 368.4h0M245.1 363.5h0M212.6 366h0M209 338.1h0M184.5 330h0M188.3 379.1h0M221.1 353.1h0M224.7 357.8h0M152.7 346h0M163.8 337h0M232.2 350.3h0M256.8 348.6h0M177.5 354.3h0M165 373.7h0M190.5 382h0M161 357.4h0M231.5 351.3h0M185.9 339.6h0M169.4 335.4h0M188.5 327.9h0M174.8 328h0M246.5 364.7h0M160.2 331.6h0M161.8 359.3h0M208.3 359.7h0M191.8 328.3h0M183.9 336.3h0M192 343.1h0M254.2 355.5h0M183 351.2h0M143.5 342.6h0M153.6 349.3h0M232.5 362.6h0M210.6 349.8h0M234.7 359.5h0M258.9 348.9h0M218.1 350.4h0M233 359.2h0M170.7 364.6h0M229.3 346.2h0M153.2 339.4h0M170 376.4h0M156 349.7h0M175.6 342.7h0M156.7 352.4h0M176 351.1h0M257.6 347.8h0M156.6 347h0M211.4 355.1h0M208.4 345.6h0M212 367.7h0M150.2 348.1h0M186.3 385h0M181.5 384.3h0M171.5 362.5h0M164.3 350.5h0M220 354.9h0M188.4 382.6h0M190.4 351.5h0M181.6 371.2h0M159.4 353.2h0M215.2 349.9h0M174 380.4h0M245.3 353.2h0M211.9 360.7h0M247.5 351.6h0M209 368.2h0M146.6 351.8h0M180.3 332.6h0M171.9 368.7h0M199.8 374.2h0M232.4 361.7h0M200 359h0M238.9 357.4h0M152 341.2h0M151.1 336.2h0M256.5 352.1h0M202.7 344.8h0M202.8 374.8h0M174.1 334.9h0M211.7 356.4h0M145.1 347.2h0M235.9 357.7h0M161.3 339.3h0M177 333.5h0M179.9 366.4h0M205.4 356.7h0M216.1 348.3h0M246.9 358.3h0M171.8 377.2h0M185.8 333.2h0M186.4 384.9h0M152.3 349.8h0M237.4 358.8h0M194.7 354.8h0M171.8 345.3h0M180.4 378.9h0M193.6 327.8h0M173.4 365.2h0M180.3 373h0M163.6 357.6h0M172.6 383.3h0M194.6 378h0M177.6 346.3h0M143.1 338.3h0M235.7 351.3h0M166.1 359.6h0M186.3 343.1h0M176.6 357.4h0M219.9 348.7h0M166.3 382.8h0M162.3 347h0M164.9 379.9h0M212 367h0M237.4 357h0M155.9 344.2h0M257.2 348.5h0M201.4 369.4h0M237.2 357.5h0M181.9 378.6h0M202.3 344.6h0M176.7 358.1h0M168 378.3h0M170.6 358.6h0M205.1 336.6h0M215.8 338.1h0M171.1 370.8h0M192.1 372h0M162 369.1h0M181.6 352.6h0M222 358.6h0M181.9 356.6h0M152 355.2h0M181.6 338.7h0M196.8 328.1h0M234.1 354.4h0M183.3 366.2h0M184.4 335.4h0M184.8 334.9h0M182.4 377.2h0M182.7 351.5h0M170.3 328h0M193.4 342.7h0M186.8 347.9h0M200.2 339.5h0M185.9 352.1h0M178.2 347.5h0M181.1 336.2h0M196.3 357.8h0M248.5 350.5h0M181.2 344.8h0M158.7 332.8h0M182 367h0M179.3 345.9h0M209.2 337h0M235.2 362.4h0M205.5 344.3h0M205.3 344.6h0M169.3 343.5h0M201.1 373.1h0M247.3 349.2h0M185.7 351.4h0M180.1 342.6h0M189.3 379.6h0M204.7 358.3h0M229.5 359.5h0M196.3 376.4h0M183.2 373.2h0M198 330.6h0M242.8 354.9h0M167.7 355.5h0M188 375.8h0M221.2 346.3h0M223.1 344.6h0M146.4 345.6h0M193.8 330.5h0M181.6 347.5h0M259.4 355.4h0M150 334.8h0M191.5 359.8h0M171 383.1h0M217.7 341.7h0M192.8 334.4h0M182.2 335.7h0M222.1 348.1h0M183.5 369.1h0M230 349.5h0M166.5 336.6h0M172.5 346.8h0M171.1 375.3h0M228.5 343.6h0M231.6 360.5h0M182.8 361.6h0M175.2 354h0M229.2 351.3h0M241 344.7h0M189.4 355.5h0M232.3 348.3h0M232.4 348.7h0M171.5 368.7h0M144.4 338.1h0M183.1 349.9h0M180.9 374.4h0M177.3 340.8h0M186.5 379.8h0M254.9 350.8h0M189.7 378.7h0M170.9 350.1h0M203.5 370.9h0M215.4 360.2h0M177 337.3h0M214.8 339.5h0M231.6 354.3h0M175.9 348.9h0M194.5 362.7h0M179.6 373.1h0M192.8 348.1h0M164.2 359.4h0M155.1 354h0M178.6 328.3h0M167.9 365.5h0M164.8 370.4h0M181.5 383.9h0M216.7 366.8h0M259.2 347.6h0M184 375.8h0M187.1 360.6h0M185.7 331.3h0M162.7 354.7h0M186.3 358h0M165 356.7h0M240 346.5h0M188.7 359.3h0M169.3 359h0M168.1 371.1h0M151.6 343.4h0M177.7 342.1h0M173.5 344.6h0M193.5 360.6h0M185.5 382h0M190.8 330.1h0M190.3 336.2h0M168.9 343.4h0M152 341.2h0M162.8 342.7h0M174.3 329.3h0M213.7 340.3h0M202.3 363.5h0M190 330.1h0M167 363.9h0M244.1 349.7h0M222.9 347.3h0M193.7 341.3h0M183.2 358.8h0M260.1 352.1h0M227.1 353.2h0M158.4 333.9h0M206.3 329.8h0M178.5 359.3h0M171.1 362.2h0M205.2 353h0M202.1 337.6h0M175.7 359h0M211 338.5h0M190.7 354.7h0M167.3 360.9h0M238.5 352.1h0M170.9 380.5h0M168.9 336.1h0M194.1 375.3h0M213.7 361.5h0M166.4 330.5h0M178 384h0M216.4 352.7h0M183 373.7h0M159.1 360.7h0M167.1 337.2h0M200.1 365.9h0M214.2 349.4h0M194.9 349.6h0M195 374.5h0M189 330h0M177.1 357.8h0M175.4 342.1h0M204.2 343.9h0M235.5 358.1h0M200.6 366.4h0M218.1 341h0M220.6 347.3h0M193.9 355.5h0M190.3 346.9h0M188.5 342.7h0M210.2 368.3h0M157.7 349.8h0M201.8 371.7h0M201.9 362.4h0M203.4 329.4h0M195.2 363.9h0M163.7 351.4h0M175.7 365.2h0M170.6 377.1h0M206.6 367.3h0M159 346h0M254.4 348.9h0M168.5 351.4h0M167.1 380.3h0M205.6 364.4h0M170.1 383.5h0M221.1 348h0M195.9 371.7h0M187.4 345.1h0M209 352.2h0M205.5 371.9h0M194.3 329.2h0M255.7 355.7h0M183.9 360.3h0M155.8 350.1h0M241.3 354.9h0M167.1 332.6h0M256 349.8h0M149.6 348.5h0M207.6 344.9h0M155.7 339.1h0M237.7 363.1h0M193.9 327.7h0M182.6 378.8h0M154.9 344.8h0M173.9 378.8h0M229.1 361.2h0M211.8 352.3h0M215.2 358.1h0M205.5 374.2h0M184.9 358h0M256.2 354.3h0M217.4 358.2h0M183 347.3h0M156 357.7h0M177.6 331.2h0M199.5 350.2h0M220.6 341h0M205.1 361.8h0M219.4 356.1h0M147.1 349.8h0M237.4 361.4h0M158.9 359.3h0M248.9 343.8h0M155 331h0M182.1 356.4h0M177.6 361.8h0M180 374h0M194.8 341.9h0M180 364.1h0M174.5 337.1h0M189.1 351.8h0M163.1 331.4h0M208.9 343.1h0M177.3 341.6h0M226.4 342.6h0M205.2 344h0M161.1 332.8h0M175.9 377.5h0M186.3 343.6h0M149 335.5h0M184.1 378.4h0M192.9 368.5h0M183.3 365.8h0M181.9 384.9h0M172.9 359.5h0M252.7 352.4h0M171.9 352.8h0M212.3 334.3h0M162.8 347.1h0M195.3 353.5h0M207.8 367.5h0M259.7 357.6h0M228.4 360.9h0M227.3 365.4h0M206.5 367.2h0M189.1 346.4h0M230.1 364.1h0M241.3 357.4h0M201.9 369.5h0M183 347.8h0M240.9 354h0M258 350.3h0M182.2 351.7h0M192.9 330.1h0M195.5 371.5h0M195.7 327.9h0M190.5 333.6h0M169.1 334.1h0M165.5 333.9h0M207.4 363.2h0M206.5 344h0M170.1 329.5h0M198.3 354.9h0M249 353.5h0M219.4 337.7h0M194.2 354.7h0M239.9 358.7h0M181.4 366h0M179.4 363.9h0M181.6 368.2h0M260.4 351.3h0M247.8 354.1h0M188.1 370.1h0M195.8 343.5h0M211.1 361.2h0M178.3 377.1h0M161.2 351.8h0M185.7 326.3h0M176.7 355.4h0M175.1 377.3h0M219.8 351h0M180.1 337.1h0M197.8 362.8h0M259 349.8h0M205.3 362.8h0M176.2 334.6h0M195.1 350h0M205.1 356h0M205.1 364.2h0M160.5 354.5h0M193.8 341h0M183.6 339.7h0M196.7 356h0M184.7 343.4h0M185.7 358.1h0M230.1 359.3h0M182 382.1h0M177.5 367.1h0M179.9 361.4h0M219.1 350.3h0M235.9 358.6h0M209.9 332.8h0M182.7 382.9h0M192.7 364.7h0M182.4 366.4h0M227.7 339.8h0M177.6 377.8h0M169.7 336.7h0M224.3 351.6h0M177.4 369.6h0M189.1 383.2h0M229.4 346h0M152 350.8h0M175.3 327.9h0M223 362.6h0M176 350.9h0M179 333.4h0M180.9 363.3h0M175.8 382.9h0M207.3 334.1h0M191.9 331.4h0M213.4 362.1h0M182.1 373.3h0M172.8 368.8h0M193.2 336.1h0M205.6 341.9h0M213.5 354.8h0M186.6 371.3h0M195.3 362.9h0M192.2 346.8h0M155.7 351.8h0M214.6 337.1h0M169.8 368.6h0M181.3 354.6h0M198.7 348.7h0M260.1 352.6h0M165.1 350.9h0M263.3 356h0M245.9 351.1h0M175.1 375.2h0M248.9 355.3h0M167.5 352.8h0M195.8 342.4h0M168.7 352.6h0M195.8 348.5h0M146.9 340.6h0M206.9 344.4h0M171.5 370.6h0M188.3 365.2h0M183.3 381h0M252.5 346.3h0M174.4 366.2h0M178.1 360.7h0M237.6 357.1h0M200.4 375.8h0M188.6 360.7h0M204.2 373.5h0M183.2 358.5h0M170.4 332.4h0M210.5 340.1h0M209.7 359h0M168.6 359.4h0M201.5 340h0M174 375.2h0M202.7 366.1h0M165.2 332.3h0M175.3 333.4h0M250 348.7h0M170.5 373.5h0M207.1 370h0M157 351.6h0M199.9 360.1h0M149.8 337h0M186 335.2h0M249.2 355.1h0M223.4 358h0M209.8 365.2h0M228.2 363.9h0M181.5 334h0M183.4 357.6h0M150.9 346.8h0M222.1 365.6h0M186.6 343.1h0M250.3 346.3h0M222.2 359.6h0M231.1 364h0M186.8 345.9h0M151.3 349.7h0M196.8 355.2h0M165.9 361.5h0M167.8 333.6h0M218.3 356.9h0M179 363.8h0M161.7 345.9h0M175.2 335.3h0M175.7 368.5h0M186.5 356.5h0M225.2 344.1h0M186 375.2h0M214.5 339.2h0M224.5 345.8h0M198 341.8h0M177.8 374.6h0M252.7 351.7h0M186.9 334.6h0M175 353.6h0M187 375.5h0M168.4 382.1h0M219.9 348.9h0M163.7 350.6h0M180.6 331.8h0M192.5 352.2h0M210.3 370.8h0M227.5 361.9h0M195.7 340.2h0M236.1 357.1h0M206.1 358.9h0M165.4 350.3h0M176.6 357h0M194.1 349.1h0M189.2 360.7h0M185.3 345.7h0M208.3 372.3h0M183.1 355h0M168 383.9h0M246.6 361.1h0M148.6 347.8h0M222.9 344.9h0M182.5 338.6h0M214.9 355.4h0M184.8 341.5h0M242.5 345.6h0M232.7 362.1h0M203.3 339h0M203.2 373.6h0M213.9 344.9h0M160.2 349.1h0M247.7 361.7h0M239.7 350.4h0M217.8 364.4h0M180.7 334.9h0M197 362.2h0M207.7 343.1h0M235.6 361.4h0M229.5 362.5h0M215.6 346.3h0M200.8 354h0M156.3 343.5h0M162.8 334.3h0M205.8 337h0M162.6 360.9h0M188.8 341.7h0M189.7 342.2h0M176.6 360.7h0M167.7 352.2h0M182 374.7h0M170.6 328.6h0M157.1 340h0M244.2 348h0M179.9 353.5h0M171.2 328.5h0M182.3 379.5h0M239.1 345.3h0M142.3 343.4h0M173 366h0M203 347.9h0M177.9 364.8h0M211 353.5h0M246.6 344.3h0M206.6 366.3h0M187.6 356h0M186.1 369.9h0M260.3 351.1h0M181.2 353.9h0M142.7 341.9h0M165.8 347.7h0M153 347.9h0M164 368.7h0M200 357.5h0M227.1 357.8h0M261.1 349.5h0M164.8 361.1h0M207.6 361.7h0M228.2 348.1h0M192.2 353.9h0M201.9 338.1h0M234.7 360h0M243.6 359.2h0M207.1 365.3h0M178.7 350.7h0M156.6 337.5h0M202.5 341.9h0M242.6 365.8h0M232.3 354.9h0M194.9 355.6h0M222.5 347.6h0M202.7 340.5h0M219.8 340.8h0M190.2 355.1h0M181.2 345.7h0M166.8 380.6h0M223.4 347.1h0M207.5 354.2h0M173.6 331.3h0M197.2 339.1h0M154.6 357.1h0M182.7 364.6h0M245 361.6h0M206.2 342.3h0M164.8 359.4h0M235.9 349.5h0M155.5 331.1h0M195.9 376.3h0M151.9 333.1h0M216.6 367.3h0M198.8 372.2h0M194 359h0M166.3 368.3h0M188.1 370.8h0M159.7 332.7h0M202.5 329.6h0M264.8 358.2h0M176.1 334h0M157 342.4h0M162.1 349h0M220.1 355.1h0M220.2 352.4h0M221.7 338.5h0M165.4 371h0M181.8 326.5h0M229 360.8h0M193.5 332h0M172.2 338.6h0M166.9 380.4h0M242.5 359.1h0M166.6 359.7h0M180.5 329.4h0M229.2 360.9h0M176.4 333.2h0M166.7 334.3h0M184 372.5h0M221.2 365.4h0M155.1 331.1h0M184.1 360.9h0M188.5 364.6h0M204.2 356h0M173.7 345.9h0M162 332.2h0M175.9 365.2h0M186.5 385.1h0M163.3 358.2h0M172.8 369.5h0M164.9 336.5h0M238.1 353.4h0M192.5 343h0M183.5 368h0M184.4 371.4h0M215.4 343.7h0M194.9 372.7h0M163.7 377.4h0M216.2 357.5h0M176.7 371.4h0M144.5 349.3h0M255.9 347.6h0M207.8 349.3h0M227.7 361.7h0M248.7 356.6h0M172.9 330.5h0M214 356h0M174.7 328h0M167.4 380.7h0M168.5 369.2h0M190 339.8h0M175.5 341.1h0M187.8 345.8h0M162.7 366.5h0M173.5 378.8h0M218.2 346h0M173.5 375h0M196.6 364.1h0M260.9 354h0M221.5 349.1h0M232.5 349.1h0M215.9 348.4h0M169.1 362.7h0M183.5 354.6h0M192.1 347.6h0M218.8 340.9h0M152.1 337.8h0M178.5 355h0M185.7 336.8h0M234.5 361h0M175 380.7h0M232.2 350.4h0M181.7 331.5h0M169.1 327.9h0M183.8 337h0M159.8 355.8h0M229.6 360.9h0M167.1 374.9h0M195.9 354.2h0M171.6 352.4h0M165.4 370.4h0M143.1 347.3h0M196.2 364.9h0M204.2 347.4h0M178.2 372.6h0M247 355.2h0M165.8 331.8h0M155.2 335.3h0M242.6 345.1h0M193.3 381.1h0M177.7 337.3h0M203.7 348.1h0M218.8 360h0M217.1 344.2h0M196.7 366.5h0M166.4 371.5h0M238.5 359.8h0M203.3 367.7h0M209.7 358.3h0M194 347.4h0M223.8 344.3h0M239.2 345.1h0M207.7 368.3h0M165.2 370.4h0M202.5 352.4h0M156.5 354.1h0M225.3 351.1h0M218 360.8h0M194.8 334.3h0M185.3 361.2h0M175.3 330.1h0M173.3 336.3h0M250.2 361.1h0M208.8 355h0M198.9 329h0M185.1 362.2h0M157.6 354.8h0M175.5 344.8h0M218.7 344.7h0M195.8 358.2h0M176.7 369.6h0M168.5 382.8h0M229.8 360.9h0M184.2 378.3h0M170.7 379.5h0M179.5 344.4h0M146.7 346.4h0M154.4 342.9h0M203.3 352h0M197.9 347.7h0M255.9 346.5h0M206.8 349.2h0M244.3 347.6h0M196.1 349.1h0M196.6 328.3h0M195.4 332.9h0M176.4 355.9h0M196.3 357.5h0M175.8 344.4h0M169.5 354.8h0M184 346.8h0M248.5 349h0M171.1 328.2h0M258.6 358.3h0M183.3 369.8h0M247.4 349.8h0M212 363h0M201.2 343.2h0M165.4 343h0M244.8 353.7h0M176.7 347.9h0M192.6 335.6h0M171.4 345h0M177.4 329.1h0M219.6 350.8h0M190.8 333.2h0M221.2 350h0M253 357.5h0M218.9 343.1h0M164.4 367.7h0M169.2 380.2h0M201.2 374h0M239.7 360.7h0M217.8 364.9h0M182.2 357.3h0M176.9 365.2h0M175.5 382.9h0M194.8 339.6h0M200 355.8h0M222.5 353.6h0M255.7 348.1h0M182.8 376.9h0M199.3 369.1h0M156.9 340.2h0M178.9 355.6h0M147.4 347.5h0M216 357.9h0M171.9 374.8h0M235.9 359.9h0M183.9 325h0M231 359.7h0M187.7 365.8h0M188.3 327.6h0M159.2 358.8h0M170 359h0M255.9 346.8h0M155.6 342.9h0M176 369.4h0M200 342.8h0M210 371.2h0M184.8 334.6h0M195.6 328.6h0M197.4 359.8h0M165.2 339.6h0M203.3 356.6h0M214.8 337h0M248.8 343.9h0M179.6 339.6h0M177.7 369.1h0M167.4 369.3h0M241.7 350.7h0M213.1 339.6h0M210.9 330.9h0M194.8 333.8h0M173.2 348h0M225.7 346.6h0M213.9 346.3h0M220.1 352.6h0M174.9 355.9h0M225.2 347.2h0M152 345.3h0M187.2 385h0M197.3 359.8h0M208.1 370.5h0M219.2 366.4h0M219 348.3h0M253.4 358.7h0M172.4 358.7h0M200.4 337.8h0M188 345.1h0M229.5 345.2h0M194.9 350.8h0M176.8 328.7h0M238.4 353.8h0M167.5 338.9h0M142.5 344.6h0M198.3 344.4h0M154.2 354.5h0M238.9 346.5h0M151.7 344.6h0M224.3 353.6h0M255.5 355.8h0M168.4 376.9h0M161.2 344.4h0M205.8 331.1h0M210.2 354.3h0M190.8 372.5h0M144.1 349.7h0M192.4 365.6h0M201.6 372.7h0M202.2 370.7h0M149 335.1h0M165.8 329h0M194.4 374.7h0M206.5 339.4h0M204.4 373.5h0M210.6 333.8h0M176.9 363.2h0M170.7 342.4h0M153 342.2h0M238.1 349.7h0M162.9 337.8h0M216.9 337.5h0M181.2 365.2h0M209.5 348.2h0M162.9 376.8h0M202.6 373.4h0M153 357.4h0M175.4 384.8h0M210 373.4h0M232.4 364.8h0M260.1 345.1h0M250.8 362.6h0M266.8 357.8h0M239.3 343.3h0M227.2 337.1h0M259 359.8h0M161.5 376.5h0M147.2 354.5h0M209 329.4h0M235.5 366.6h0M171.5 384.8h0M171.7 324.9h0M158.6 360.9h0M189.8 384.4h0M264.1 348.8h0M185.9 386.4h0M225 368.5h0M192.2 383.9h0M197.8 378.9h0M161.1 370h0M180.3 387.8h0M145.9 355.2h0M199.7 325.5h0M216.6 369.9h0M172.4 384.5h0M217.9 333.6h0M162.9 382.3h0M197.5 324h0M158.7 363.7h0M174.5 383.6h0M225.3 337.8h0M262 359.8h0M199.1 377.2h0M163.1 381.2h0M155.9 360h0M211.7 372.6h0M252 345.1h0M161.4 374.1h0M188.6 386h0M141.1 340.2h0M141.7 342.1h0M227.1 366.7h0M154.6 358.5h0M187.1 325.5h0M234.3 343h0M146.1 354.3h0M221 367.1h0M256.3 345.5h0M147.3 333.4h0M260.5 358.4h0M143.9 335.9h0M147.2 354.8h0M222.6 368.3h0M171.8 385.6h0M178.3 384.6h0M249.8 342h0M140.1 343.6h0M207.6 373.8h0M254.7 345h0M147.1 333.1h0M245.6 367.4h0M255.1 362h0M194.1 324.5h0M211 330.5h0M170.1 385.1h0M169.3 385.8h0M169.8 385.1h0M237.1 366.4h0M169.5 325.8h0M232.8 341.1h0M163.6 382.4h0M160.8 368.3h0M223 368.2h0M245.1 367.2h0M152.3 357.4h0M237.7 366.7h0M221.1 367h0M206 329.1h0M228.5 337.2h0M161.8 372.9h0M224.9 367.2h0M210.3 328.6h0M181 386.7h0M179.9 385.6h0M229 366.8h0M217.2 334.3h0" stroke="#0072bd" stroke-width="5.3" stroke-linecap="round" fill="none"/>
<path d="M144.9 344.4 L146.2 347.7 L147.7 350.3 L152 352.9 L152.1 352.9 L158.6 356.9 L158.8 357.1 L159 357.2 L163 360.7 L163.2 360.9 L163.4 361.2 L163.5 361.4 L163.7 361.7 L163.8 361.9 L163.9 362.2 L164 362.5 L165 368.5 L165 368.8 L165.5 375.5 L166.6 379.7 L168.8 381.3 L173.5 380.5 L173.8 380.5 L174 380.5 L174.3 380.5 L174.6 380.6 L179.6 381.6 L179.9 381.6 L180.1 381.7 L180.4 381.8 L180.6 382 L183.3 383.7 L185.7 382.8 L189.3 380.5 L197.2 374.6 L197.4 374.5 L197.6 374.3 L197.9 374.2 L198.1 374.1 L202.8 372.7 L207.3 370 L211.7 366.6 L212 366.4 L212.3 366.3 L216.8 364.3 L217.1 364.2 L217.3 364.1 L217.6 364 L221.6 363.5 L222 363.5 L226.4 363.5 L228.6 361.7 L228.8 361.5 L229.1 361.4 L229.3 361.2 L229.6 361.1 L229.9 361.1 L230.2 361 L230.5 361 L236 361 L236.3 361 L236.6 361.1 L236.9 361.1 L237.1 361.2 L237.4 361.4 L237.7 361.5 L237.9 361.7 L238.1 361.9 L239.6 363.4 L243.4 363 L247.3 361.9 L249.7 359 L249.9 358.9 L250.1 358.7 L250.3 358.5 L250.5 358.4 L250.8 358.3 L255.3 356.3 L255.6 356.1 L256 356 L261.5 355 L261.7 355 L260 351.6 L258.6 350 L256.4 349 L253 349 L252.7 349 L252.5 349 L252.2 348.9 L251.9 348.8 L251.7 348.7 L251.5 348.6 L247.5 346.2 L238.6 347.9 L238.3 348 L238 348 L237.7 348 L237.5 348 L237.2 347.9 L236.9 347.8 L236.7 347.7 L232.7 345.7 L232.3 345.5 L227.7 342.3 L224.3 341.4 L224.1 341.3 L218.1 339.3 L217.8 339.2 L217.5 339.1 L217.3 339 L207.9 332.4 L203.7 332 L203.4 331.9 L203.1 331.9 L202.8 331.8 L202.5 331.6 L202.3 331.5 L198.2 328.6 L194 329 L188.8 330.4 L188.5 330.5 L188.2 330.5 L187.9 330.5 L187.7 330.5 L187.4 330.4 L187.1 330.4 L186.8 330.3 L186.6 330.1 L186.3 330 L182.9 327.7 L176.6 328.9 L176.5 329 L170.7 329.9 L165.9 331.4 L165.5 331.5 L160.1 332.4 L156.2 333.4 L155.9 333.5 L152.6 333.9 L149.9 335.9 L146.7 338.6 L145.4 340.2 L144.9 344.4 Z" fill="#0072bd"/>
<g font-size="15.2" font-weight="bold" fill="#262626" stroke="#262626" stroke-width="0.3">
<text x="33.7" y="535.8" text-anchor="middle">0</text>
<text x="90" y="535.8" text-anchor="middle">2000</text>
<text x="146.3" y="535.8" text-anchor="middle">4000</text>
<text x="202.6" y="535.8" text-anchor="middle">6000</text>
<text x="258.9" y="535.8" text-anchor="middle">8000</text>
<text x="315.2" y="535.8" text-anchor="middle">10000</text>
<text x="29.1" y="523.1" text-anchor="end">0</text>
<text x="29.1" y="482.6" text-anchor="end">1</text>
<text x="29.1" y="442.1" text-anchor="end">2</text>
<text x="29.1" y="401.5" text-anchor="end">3</text>
<text x="29.1" y="361" text-anchor="end">4</text>
<text x="29.1" y="320.5" text-anchor="end">5</text>
</g>
</g>
<g id="plot-d">
<path d="M447 315.2V517.8M502 315.2V517.8M556.9 315.2V517.8M611.9 315.2V517.8M392 467.1H666.9M392 416.5H666.9M392 365.8H666.9" stroke="#dedede" stroke-width="1.6" fill="none"/>
<path d="M447 517.8v-3.5M447 315.2v3.5M502 517.8v-3.5M502 315.2v3.5M556.9 517.8v-3.5M556.9 315.2v3.5M611.9 517.8v-3.5M611.9 315.2v3.5M392 467.1h3.5M666.9 467.1h-3.5M392 416.5h3.5M666.9 416.5h-3.5M392 365.8h3.5M666.9 365.8h-3.5" stroke="#262626" stroke-width="1.4" fill="none"/>
<rect x="392" y="315.2" width="274.9" height="202.6" fill="none" stroke="#262626" stroke-width="1.9"/>
<path d="M393.7 415.4h0M575.4 325.6h0M555.9 340.2h0M531.1 355.8h0M568.4 355.1h0M576.1 358.1h0M569.5 360.2h0M553 363.3h0M568.4 366.1h0M571.4 368h0M583 369.2h0M513.5 371.6h0M531.8 370.4h0M531.8 372.3h0M550.7 369.9h0M551.4 372.3h0M562 369.9h0M557.8 372.7h0M569.1 372.3h0M563.2 375.8h0M576.1 377.4h0M556.6 378.6h0M543.6 381.7h0M547.2 381h0M562.5 381h0M566 379.8h0M500.5 384.5h0M519.6 383.8h0M524.8 384.5h0M528.3 385.7h0M534.2 384h0M537.7 385.7h0M554.2 384.5h0M581.3 384h0M594.3 388.5h0M508.3 387.6h0M506 388h0M500.7 392.8h0M503.6 394.4h0M504.7 400.3h0M500 404h0M606.1 396.3h0M607.3 397.5h0M613.1 401h0M615.5 404h0M609.1 406.4h0M617.8 410.4h0M624.2 410.4h0M501.5 465.6h0M515 460h0M528.6 470.1h0M526.3 463.1h0M531 460.3h0M554.7 471.2h0M555.9 461.9h0M566.9 460.3h0M580.4 463.5h0M577.6 461.2h0M600.8 460.7h0M600.3 461.9h0M538.4 483.4h0M560.1 486.7h0M576.2 481.3h0M573.2 488.8h0M551.7 493.7h0M576.5 493.9h0M578.8 496.5h0M585.6 498.1h0M620.2 425.7h0M622.5 429.9h0M620.9 435h0M613.1 441.6h0M607.3 442h0M603.3 443.7h0M508.3 451.5h0M500.6 441.3h0M514.9 459.7h0M541.8 425.5h0M591 397.7h0M514.6 423.4h0M538.6 415.1h0M572.5 409.1h0M564.4 392.8h0M501.4 413.7h0M549.3 454.1h0M518 404h0M570.6 446.5h0M544.9 387.2h0M574.9 440.4h0M568.4 409.3h0M587.5 432.3h0M561.5 425.4h0M522.9 419h0M583.6 436.3h0M535.1 446.7h0M514.6 401.3h0M567.6 425.6h0M519.2 392.8h0M534.4 448.1h0M563.3 388.8h0M544.5 388h0M565.1 393.6h0M517 433.2h0M588.1 431.5h0M529.4 433.4h0M527.3 436.7h0M565.4 399h0M588.6 447.5h0M527.9 457.4h0M553.1 450.1h0M562.5 425.9h0M550.4 405.9h0M530.1 415h0M599.8 434.3h0M505.7 417.9h0M581.1 405.5h0M555.4 447.1h0M523.9 437.7h0M558.3 389.9h0M527 415.7h0M524.7 401.9h0M562.3 424.4h0M532.2 409.1h0M551.4 453.5h0M599.2 436.3h0M584.5 413.4h0M572 418.5h0M521.5 436.9h0M531.3 425.1h0M520.5 394.1h0M510.7 414.1h0M551.9 432.9h0M531 394.1h0M597.3 432.4h0M571.1 436.7h0M532.5 429.5h0M532.1 434h0M583.8 393.2h0M558.5 449.6h0M593.7 447.2h0M524.5 405.2h0M513.7 404.3h0M541.4 444.9h0M569.1 397.4h0M517 418.6h0M594 420.2h0M583 436.7h0M592.7 422.1h0M538.5 419.1h0M584.5 405.5h0M518.5 448h0M549.6 433.1h0M522 417h0M599.7 417.6h0M530.3 397.5h0M566.7 434.9h0M532.7 438.4h0M592.4 410.1h0M561.7 406.5h0M568.3 442h0M534.5 435.1h0M584 420.6h0M539.1 396.6h0M525.6 452h0M555.1 411.5h0M558 447.7h0M533.5 401.7h0M593.3 424.9h0M566.8 392.9h0M583.9 443.4h0M565.9 428.3h0M544.6 437h0M561.6 435.5h0M555.3 392.9h0M554.5 454.2h0M520.1 403.7h0M527.4 402h0M585.6 425.1h0M506.9 423.2h0M573 414.7h0M518.4 427.6h0M543.8 416.3h0M533.3 387.3h0M532.9 432.5h0M555.8 429h0M580.2 438.6h0M530.8 440h0M528.8 429.9h0M595.8 419h0M550.7 402.5h0M601 435.6h0M532.9 405.2h0M603.6 426.8h0M581.9 402.6h0M588.7 438h0M592.4 421.2h0M597 427.6h0M530.2 454.6h0M557.1 414.7h0M553.9 412.6h0M541 432.6h0M550.7 433.5h0M542.8 444h0M539.9 433.1h0M525.5 398.4h0M567.3 419.3h0M516.9 417.2h0M543.5 417.2h0M506.9 407.1h0M542 441.7h0M510.1 432.5h0M538.7 443.3h0M571.3 398.9h0M574 412.4h0M531.5 423.7h0M529.4 413.9h0M560.1 402.4h0M590.7 406h0M516.6 418.8h0M531.2 423.5h0M506.1 437.2h0M534.8 388.6h0M598.5 423.1h0M523.4 451.3h0M537.8 447h0M519.9 412.6h0M590 446.1h0M501.7 414.9h0M588.9 436.7h0M542.6 436.2h0M545.7 447.8h0M528.7 441.5h0M514.1 429.2h0M531.5 410h0M507.8 435.4h0M569.7 434.4h0M544.4 429.2h0M540 441.2h0M585.5 448.6h0M570.1 401.7h0M585.5 426.9h0M577.9 441h0M582.1 435h0M543.4 434h0M510.9 437.2h0M534.9 433.6h0M527.1 402.1h0M513.6 436.5h0M565 389.6h0M509.9 447.9h0M525.8 454.9h0M587.3 416h0M528.4 403.2h0M501.6 438.9h0M573.2 441.3h0M583.2 402.3h0M516 431.5h0M584.8 440.5h0M577.8 415.8h0M575.3 453.5h0M564.3 395.3h0M577.3 417.4h0M559.7 415.9h0M595 431.3h0M585.9 415.5h0M592.4 418.7h0M550.4 451.2h0M543.3 417.4h0M523.3 436.3h0M575.3 435.4h0M550.8 393h0M520 393.8h0M513.1 423.5h0M579 437.4h0M596.4 423.2h0M588.7 427.2h0M579.4 445.7h0M595.9 423h0M574.2 430.5h0M589.2 397.6h0M549.6 391.2h0M572.2 390.3h0M583.7 446h0M538.7 453.1h0M538.4 447h0M529.5 439.3h0M509.6 410.1h0M540.5 451.9h0M587 392.2h0M547.5 448.6h0M603.7 419.3h0M515.1 444h0M518.4 429.7h0M531.5 389.4h0M500 415.8h0M502.6 432.9h0M578.4 439.9h0M551.8 432h0M591.5 408.3h0M562.8 397h0M533.5 436.6h0M542.3 442.4h0M556 390.7h0M567.1 389.9h0M523.4 405.1h0M516.5 441.9h0M526.8 435.2h0M557.3 450.6h0M567 427.3h0M501.4 420.6h0M558.2 445.8h0M566.1 430.5h0M535.1 434.4h0M533.2 453h0M529.8 439.1h0M555.5 423.9h0M555.6 395h0M582.2 431h0M550.1 423.7h0M537.3 399.6h0M546.9 437.1h0M529.1 442.8h0M550.7 451.2h0M540.7 397.6h0M551.1 419.2h0M541 433.7h0M561.7 409.2h0M572.3 396.3h0M569.4 414.9h0M581 448.4h0M550.1 392h0M583.6 412.7h0M574.2 422.5h0M598.9 417.6h0M506.2 427h0M592 420h0M567.5 391.3h0M515.9 408.9h0M501.8 431.2h0M498.2 419.6h0M571.1 395.6h0M579 439h0M558.8 413.7h0M563.3 437.8h0M598.8 405.2h0M535.1 450h0M581.5 405.1h0M583.6 391.7h0M595.3 429.3h0M603.7 419.6h0M573.9 406.5h0M575.9 457.8h0M542.8 389h0M577.9 407.2h0M547.8 449.7h0M598.5 436.8h0M593.9 404.9h0M553 406h0M577.8 417.1h0M570.6 453.5h0M509.5 412.7h0M576.7 447.7h0M590.8 414.3h0M570.8 427.8h0M590.2 397h0M531.9 440h0M564.2 405.9h0M502.6 414.6h0M596.2 414.4h0M563.7 411.6h0M570.2 422.7h0M560.8 402.1h0M505.4 419.8h0M551.2 424.5h0M547.2 390.9h0M529.5 451.2h0M565.2 441.5h0M597.2 436.9h0M553.4 387.4h0M599.2 420.5h0M530.7 411.8h0M579.3 442.9h0M529.2 396.5h0M541.6 393.8h0M563.3 449.4h0M541.3 395.4h0M517.7 423.9h0M571.1 411.3h0M510.4 407.3h0M524.1 437.2h0M583 447.3h0M506.8 427.3h0M524.4 418.5h0M521.8 405h0M530.2 399.7h0M507.2 407.2h0M500.2 426.2h0M552.2 454.1h0M511.3 411.6h0M513.9 411.1h0M533.7 429.7h0M502.3 428.4h0M557.1 404.3h0M575.4 441.5h0M564.9 418.5h0M542.2 423.3h0M521.2 449.5h0M579.2 425.2h0M545.9 442.7h0M603.5 423.7h0M500.5 430h0M518.9 392.8h0M560.5 405h0M581.7 414.9h0M543.9 417.4h0M584.4 396.5h0M565.7 407.2h0M505.5 417.5h0M511.6 401.5h0M556.7 441.7h0M578.7 458.1h0M564.9 412h0M601.4 429.1h0M565.5 395.4h0M511.8 405.4h0M537.5 438.4h0M539.8 412.6h0M545.4 428.8h0M522.2 414.4h0M543.3 432.8h0M535.8 398.8h0M596.8 409.3h0M577.9 433.4h0M556 440.6h0M540.7 402.2h0M528.5 410.2h0M543.3 416h0M524.6 404.8h0M560.7 419.9h0M551.4 396.6h0M549.3 447.7h0M521.6 396.1h0M544.6 397.3h0M522.8 404.4h0M600.3 434.6h0M544.5 429.4h0M546.1 431h0M567.7 407.1h0M581.6 424.9h0M570 408.1h0M517.7 444.8h0M532.3 424.3h0M591.4 431.4h0M553 425.1h0M529.5 442.4h0M529.9 440.8h0M581.8 434.3h0M566.6 394.8h0M599.1 418.7h0M600 417.5h0M589.2 411.9h0M541 406.8h0M582.3 426h0M536.2 404.5h0M574.3 399.7h0M584.6 448h0M553.1 430.1h0M556.4 425.3h0M545.4 394.7h0M506.6 428.8h0M509.1 435.3h0M567.5 447.8h0M544.4 415.6h0M532.6 421.1h0M571.5 450.2h0M521.7 447.9h0M593.9 421.8h0M554.9 455.2h0M560.3 396.8h0M590 414.1h0M516.8 441.2h0M535.3 454.9h0M540.3 406.6h0M518.1 442.9h0M521.7 396.2h0M539.1 438.9h0M581.5 448.1h0M557 421h0M531.3 456.8h0M528.6 421h0M585.7 402.4h0M556.2 393.3h0M514.1 413.4h0M549.5 390.3h0M525.7 452.1h0M523.4 398.7h0M524.2 407.4h0M506.5 428.9h0M540.8 433.4h0M562.6 439.8h0M538.4 444.3h0M528.2 424.2h0M552.3 402.7h0M574.5 456.1h0M576.8 419.2h0M540 406.4h0M543.6 453.8h0M521.4 440.2h0M591.5 409.6h0M565.7 432.7h0M508.3 437.3h0M524.9 457.3h0M564.1 398.4h0M566.7 441.2h0M552.3 436.1h0M575.2 435.6h0M603.1 416.4h0M551.5 429.7h0M555.2 387.2h0M510.8 427.7h0M547.9 402.2h0M585.5 399.7h0M512.7 399.5h0M536.1 421h0M591.4 405.9h0M580.2 437.9h0M563 400.1h0M542.4 443.9h0M506.7 405.9h0M557.9 447.8h0M504 408.9h0M554.4 430.9h0M573.2 456.2h0M534.7 387.6h0M524.5 424h0M551 443.7h0M591.6 429.9h0M548.7 389.8h0M522.5 454.6h0M584.4 443.3h0M512.3 419.4h0M583.4 447.2h0M566.4 406.3h0M525.8 438h0M545.2 397.8h0M589.4 416.7h0M547.8 397.3h0M540.7 396.9h0M594.8 439h0M532.2 415.1h0M576.9 418.8h0M520.7 393h0M547.3 395.7h0M577 437.4h0M581.5 392.5h0M580.7 402.8h0M557.6 421.4h0M587.6 434.5h0M550.4 393h0M577.2 402.9h0M503.1 429.7h0M517.5 420h0M509.8 434h0M573.9 435.2h0M541.8 425h0M571.4 423.8h0M571.7 454.9h0M518.8 411.1h0M523.5 406.8h0M590.6 424.2h0M517.8 419.6h0M545.8 454.9h0M595.8 419.4h0M518.2 417.8h0M570 443.6h0M515 415h0M549.7 398.7h0M511.2 442.9h0M509.5 445.7h0M584.6 422.3h0M560.7 398.8h0M580.9 439.2h0M553.5 423h0M528.9 396.3h0M559.8 435.3h0M558.8 416.1h0M545.3 409.7h0M581.3 453.8h0M592 420.4h0M573 401.6h0M520 449.2h0M556.2 416h0M501.5 418.5h0M546.5 451.9h0M566.2 396.1h0M576.8 421.7h0M513.4 401h0M516.4 427.2h0M541.4 422.1h0M547.7 442.9h0M544.3 387h0M535.7 452.5h0M549.1 416.4h0M531.3 437.6h0M586 414.1h0M588.1 405.3h0M583.6 414.1h0M603 413h0M571.9 427.3h0M530.2 405.3h0M506.5 412.5h0M560.2 401.2h0M561.4 421h0M564 422.9h0M529.2 454.9h0M521.7 442.6h0M517.4 402.7h0M570.4 430.7h0M570.4 423.6h0M535.4 444.8h0M561.3 403h0M527.1 428.7h0M538.2 447.7h0M556.1 411h0M518.6 429.3h0M542.8 399.7h0M547 420.7h0M527 429.4h0M551 449.4h0M597.4 415h0M570.2 412h0M511.6 444.6h0M547.8 422.4h0M571.2 410.6h0M542.8 392.7h0M558.3 429.4h0M568.5 435.9h0M580.5 402.2h0M515.6 441.5h0M530.7 390.4h0M576.3 408.8h0M575.4 459.2h0M559.4 449.4h0M561 426.3h0M505.4 405.6h0M562.8 434.4h0M561.4 420.2h0M529.3 440.8h0M556.2 400.1h0M598.8 412.4h0M525 432.3h0M555.8 400.3h0M536.4 416h0M585.2 447.7h0M568.7 393.7h0M532.1 425.6h0M556.6 437h0M512.2 439.4h0M529.9 409.4h0M543.3 433.5h0M530.3 391.7h0M603.4 419.8h0M597.4 417.4h0M542.3 429.5h0M588.9 393.3h0M554.7 442.7h0M582.5 439.5h0M596 421.4h0M534.1 453.3h0M503.8 410.5h0M551.2 452.2h0M530.1 437h0M528.1 412.4h0M588.3 446.4h0M548.8 397h0M509.3 420.8h0M591.4 407.5h0M576.4 392.9h0M528.9 395.5h0M514 435.3h0M586.4 439.4h0M559.9 388.4h0M524.8 415.4h0M543.9 409.1h0M543.2 418.9h0M540.9 419.1h0M565.7 443.1h0M542.9 447.5h0M564.3 388h0M553.8 422.9h0M573.8 419h0M527 440.6h0M534.8 423h0M584.8 432.8h0M520.7 448.3h0M565.7 444.7h0M534.8 448.4h0M506.9 414.7h0M544.4 412.6h0M592.2 409.8h0M602.5 413.9h0M536.7 435.2h0M575.2 404.4h0M505.5 422.6h0M533.7 433.2h0M525.1 421.4h0M539.1 400.5h0M532.5 409.1h0M600.6 432.9h0M589.1 404.1h0M557.7 431h0M528.4 414.4h0M535.1 393.5h0M556.2 396.1h0M551.7 445.5h0M514.1 409.4h0M576 456.9h0M565.7 438.3h0M539.4 438h0M558.2 432.2h0M581.1 426.3h0M582.9 407.2h0M581.9 416.5h0M513.1 434.9h0M588.4 446.3h0M564.3 443.6h0M539.4 405.5h0M599.5 427h0M589.7 436.3h0M583.8 424.3h0M595.4 433.5h0M569.2 401.6h0M540.2 408.4h0M521.4 436.1h0M513.6 398.4h0M542.5 434.1h0M581.4 422.4h0M559.2 399.7h0M520.3 423.9h0M517.2 423.7h0M568.7 420.6h0M589.8 436.6h0M577 441.2h0M557.9 443.9h0M590.1 434.7h0M521.2 394.8h0M524.1 452.9h0M555.5 433.3h0M544.7 395.2h0M509.8 421.8h0M568 393h0M560.2 435h0M526.7 446.3h0M538.7 420.6h0M506.8 428.2h0M543.8 392.4h0M516.5 405.6h0M514.7 393.6h0M605.5 420h0M516.3 433.4h0M557.4 432.1h0M518 449.1h0M557.6 393.5h0M523.8 454.2h0M545.1 422.1h0M537.1 432.6h0M545.3 441.9h0M523.9 447.5h0M499.2 419.4h0M539 391.7h0M545.2 397.7h0M553.6 442.6h0M529.2 440h0M586.3 396.6h0M565.1 409.5h0M587.8 408.1h0M582.6 433.7h0M522.5 437.6h0M594.2 419.4h0M515.5 424.5h0M578.6 396.4h0M578 449.8h0M578.5 425h0M541.1 399.5h0M530.9 424.6h0M539.5 428.6h0M557.1 442.8h0M502 436.7h0M546.6 413.9h0M574.3 393.1h0M544.9 384.9h0M595.9 414.9h0M548.9 427.6h0M575.7 457.8h0M530.8 396.4h0M584.1 399.7h0M571.6 439.9h0M574.1 445h0M530.8 402.3h0M546 387.6h0M566.6 414.2h0M603.2 429.2h0M565.9 404h0M527.6 435h0M580.3 410.1h0M570.8 391.9h0M513.7 410.3h0M522.2 406.3h0M511.6 416.1h0M576 432.7h0M582.1 422.3h0M540.2 426.1h0M504.2 412.6h0M539.8 402.5h0M512.7 437.5h0M536.5 396.5h0M533.5 431.1h0M510 405.3h0M597.6 418h0M591.1 437.6h0M585.3 405.1h0M526.6 429.9h0M584.8 429.5h0M526.2 431.8h0M572.3 394.5h0M539.1 421h0M569 414.5h0M571.6 436.2h0M599.5 408h0M543.2 429.3h0M567.7 398.2h0M540.3 386.8h0M548.1 423.2h0M576.5 389.1h0M504.3 438.3h0M556.9 442.9h0M579.5 410.4h0M569.1 416.8h0M523.5 424h0M583.1 421.4h0M520.1 423.5h0M521.5 410.3h0M564.1 428.8h0M565.7 403.5h0M525.9 438.7h0M553.4 420.4h0M559.4 420.3h0M591.2 397.1h0M544.2 451.8h0M522.6 415.2h0M532.4 453.4h0M555 451.1h0M572.8 405.2h0M581.3 415.3h0M570.7 437.8h0M536.5 392.4h0M577.9 418.5h0M597.3 402.5h0M577.6 423.9h0M519.3 415.9h0M545.9 394.4h0M556.8 454.6h0M597.8 435.6h0M570.2 412.6h0M563.4 414.8h0M571.5 398h0M527.4 398.6h0M537.7 427h0M500.1 425.2h0M602.6 420.4h0M554.4 412.6h0M509.9 406.3h0M589.6 418h0M537.9 447.4h0M578 456.8h0M553.5 451.9h0M576.6 410.4h0M526.1 403.1h0M555.6 435.3h0M540.5 434.8h0M534 422.4h0M545.3 397.9h0M576.5 446.9h0M557 431.4h0M535.4 447.9h0M559.4 450.9h0M530.1 452.3h0M555.8 452h0M524.1 441.8h0M506.5 417.7h0M589.1 442h0M589.4 424.9h0M517.3 399.5h0M524.5 426.5h0M530.3 450h0M557.6 444.5h0M549.4 425.4h0M591.8 432.5h0M548.7 412h0M602.1 422.3h0M515 429.7h0M511.1 442.8h0M556.2 387.1h0M546.3 455.1h0M522.2 436.4h0M503.4 435.5h0M564.5 408.2h0M536.9 391.9h0M581.6 452.1h0M526.7 452.5h0M505.6 426h0M576.8 453.6h0M589.7 398.8h0M558.3 402.2h0M571.1 420.4h0M585.6 431.6h0M511 418.4h0M568.8 395.3h0M528.6 434.6h0M591.1 414.4h0M574.4 423.1h0M507.4 423.4h0M556.8 422.1h0M540.1 446.1h0M531.5 406.8h0M532.1 414.4h0M505.8 407.9h0M532.5 423.1h0M578.6 451.5h0M591.2 425.5h0M596.2 438.8h0M530.2 429.6h0M548.3 409.3h0M590 426.1h0M525.8 402.2h0M555.7 414h0M516.7 393.7h0M563.9 394.3h0M540.5 403.1h0M584 432.9h0M553.5 445.3h0M563.5 445.8h0M601.3 425.1h0M543.8 428.8h0M544 397.7h0M519.2 406.5h0M539.2 402.2h0M562.9 388.8h0M532.4 405.9h0M536.7 415h0M546.2 386.4h0M561.6 387.3h0M556.2 451.5h0M552.2 432.9h0M506.6 416.2h0M535.1 445.3h0M557.1 406.2h0M574.5 435.9h0M581.8 447.6h0M521.6 428.1h0M576.6 453h0M520.1 451.6h0M518.3 449.4h0M575.8 411h0M523.3 412.4h0M498.4 427.4h0M503.4 423.8h0M571.8 444.4h0M525.1 445.1h0M510.7 404.4h0M540.1 396.5h0M548.1 429.6h0M584.2 449h0M601.9 420.2h0M576.1 404.3h0M528 435.4h0M559.2 432.6h0M526.6 437.8h0M565.1 430.9h0M554.2 407.5h0M562.6 438.5h0M562 429.8h0M569.6 403.3h0M581.8 393.1h0M545.4 439.1h0M588.6 416h0M566.1 393.2h0M526.8 425.4h0M502.4 431h0M514.9 434.1h0M554.9 392.4h0M601.4 428.5h0M510.7 428.9h0M548.9 454.5h0M521.7 453.5h0M499.7 420.1h0M559.4 435.7h0M537.3 428h0M550.8 389.8h0M576.9 420h0M559.8 437.3h0M582.8 413.3h0M557.8 443.2h0M591.3 414.1h0M552 444.2h0M561.3 399.2h0M548.2 413.1h0M537.2 422.3h0M547.3 432.5h0M517.1 431.1h0M573.4 444h0M581.3 440.9h0M522 402.8h0M557 411.6h0M575.9 458.8h0M568.7 444.7h0M503.5 408h0M581.6 392.2h0M527.1 404.2h0M555.7 407.1h0M516.3 420.5h0M551.1 400.3h0M550.2 452.5h0M542 448.4h0M562.3 387.2h0M575.5 448.4h0M581.7 438.2h0M502.3 422.3h0M567.8 428.3h0M517.1 425.4h0M504.8 418.2h0M557.5 395.3h0M581.9 445.5h0M566.8 416.8h0M539.5 436.9h0M517.5 392.7h0M583 448h0M602.8 428.1h0M563.9 445.6h0M592 403.1h0M548.7 442.8h0M526 397.3h0M588.4 438.6h0M528.6 435.8h0M580.7 439.3h0M534.9 435.4h0M517.1 428.9h0M520.2 393.3h0M528.1 398.1h0M537.4 435.9h0M537.3 405.6h0M523.9 454h0M522.5 397.2h0M505.9 423.8h0M536.9 399.6h0M594.3 429.2h0M521.5 399.2h0M576 408.3h0M574.8 443.3h0M596.2 434.6h0M594.6 399.7h0M542.4 422.3h0M582.5 429h0M588.2 440.1h0M579.3 389h0M568.3 392.3h0M528.9 404.4h0M523.4 403.2h0M540 423.7h0M584.9 435.1h0M519.9 415.1h0M544.5 451h0M504 413.3h0M535.3 409.2h0M538.9 395h0M539.3 437h0M510.1 405.2h0M574.3 442.3h0M558.2 440.8h0M525.7 400.6h0M543.8 394.5h0M576.4 445.2h0M537.7 434.1h0M593.6 422.7h0M511.2 438.5h0M565.1 401.9h0M563.9 441h0M498.8 414.1h0M547.3 444.6h0M569.3 411.9h0M561.7 414.6h0M540.2 411.9h0M529.1 425.7h0M556.3 438.7h0M541.3 400.7h0M554.3 398.9h0M580 421.3h0M527.9 436.4h0M504.6 438h0M505.6 422.9h0M557.8 422h0M553.9 437.4h0M583.1 408.3h0M571.8 399.1h0M597.8 433.2h0M575.1 448.1h0M602 428.1h0M595.3 441.8h0M570.4 412.3h0M581 397.3h0M546.7 401.2h0M557.6 412.5h0M551.7 454.8h0M589.3 437.6h0M575.8 403.3h0M603.7 423.6h0M502.1 416.7h0M553.9 393.4h0M592.5 401.3h0M553.9 413.7h0M551.8 387.7h0M579 388h0M509.2 424.6h0M600.3 436.3h0M527.5 430.3h0M541.7 421h0M515 425.8h0M596.6 442.2h0M548.5 416.6h0M554.9 393h0M579.2 436.1h0M512.2 424.7h0M533.1 454.8h0M538.3 391.3h0M509.9 427.5h0M504.6 436.9h0M528 457.1h0M557.5 422.8h0M521.4 436.4h0M578.2 399.7h0M536.7 403.9h0M581.7 438.2h0M530.7 451.4h0M536.5 454.9h0M583.7 448h0M549.3 446.2h0M525.5 399.7h0M604.8 415.8h0M596.3 401.5h0M531.2 456.7h0M561.2 429h0M519.6 401.8h0M591.5 420.9h0M510 430.3h0M507.8 417.7h0M562.4 416.9h0M540 431h0M555.4 395.6h0M526.3 432.1h0M597.9 430.6h0M527.7 412.7h0M522.7 425h0M556.8 402.5h0M534.9 393.5h0M598.3 433.9h0M560.2 389.3h0M598.6 406.2h0M530.8 437.3h0M544.8 391.2h0M504.6 411.6h0M579.5 414.4h0M518.6 449.8h0M563.1 413.8h0M541.3 407.8h0M570.6 419.5h0M557.1 434.9h0M535 445.9h0M511.9 418.1h0M527.1 417.6h0M502.9 415.5h0M517.5 410.9h0M584.1 421.3h0M513.5 437h0M574 411.9h0M583.9 412h0M537.6 413.1h0M582.3 449.2h0M538.8 394.7h0M517.1 419.6h0M545.2 451.1h0M553.9 388.5h0M583.7 410h0M515.7 401.9h0M514 424.8h0M523.2 404.8h0M500.2 422.2h0M551 433.7h0M523.8 407.7h0M519.9 433h0M541.1 395.6h0M573 409.2h0M546.7 422.1h0M554.3 394.8h0M567.8 436.3h0M576.4 424.4h0M531.6 417.8h0M546.9 397.4h0M533.9 427.8h0M543.2 425.9h0M517 411h0M559.4 410.5h0M557.7 409.3h0M587.7 432.6h0M545.6 444.4h0M558.9 419.1h0M590.7 424.4h0M544.5 440.3h0M536.6 424.2h0M513.6 417.7h0M531.2 404.9h0M597.5 411.8h0M566.6 396.4h0M533.1 424h0M595.2 404.4h0M595.9 401.8h0M555.7 396.9h0M555.4 428.3h0M595.5 440.9h0M517 440.9h0M583.5 440.6h0M566 421.3h0M571.8 434.7h0M584.3 417.8h0M563.7 435h0M574 404.3h0M526.1 400.7h0M589.1 425.4h0M568.2 397.2h0M572.5 452.9h0M499.4 414.7h0M581.9 398.7h0M593.2 406.5h0M604.3 421.9h0M550.9 432.6h0M548.9 453.1h0M528.9 398.7h0M563.3 439.6h0M502.2 408h0M602.4 423.2h0M519.6 421.6h0M551.9 393.4h0M603.6 423.4h0M572.2 455.1h0M509.4 448.2h0M513.7 434.9h0M532 400.4h0M538.8 411.6h0M520.1 408.4h0M592.3 448.3h0M521.1 435.5h0M600.3 432.5h0M548.3 397.1h0M571.9 395.3h0M536.6 406.4h0M558.1 452.1h0M552.3 438.4h0M604.6 424.8h0M555.9 401.9h0M542.6 430.6h0M545.3 446.2h0M591.6 445.5h0M502.4 430.9h0M579.7 450.5h0M578.9 422.6h0M533.3 432.5h0M529.8 416.4h0M558.2 433.5h0M590.5 422.7h0M594 436.1h0M542.8 437.6h0M581.5 429.1h0M527.8 416.3h0M594.8 417.5h0M578.7 411.5h0M531.5 396.9h0M579.2 390.4h0M580.4 389.3h0M539.4 450.4h0M561.8 446h0M570.5 424.9h0M507.2 422.7h0M556.2 400.2h0M567.9 448.2h0M580 388.2h0M519.7 430.6h0M584.2 399.9h0M570 427.5h0M595.3 436.1h0M584.7 423.8h0M586.1 445.2h0M511.2 404.3h0M508.6 411.2h0M569.3 419.3h0M509 418.6h0M530.9 444.8h0M510.1 424.4h0M510.2 440.5h0M563 428.1h0M501.6 436h0M552.5 398.8h0M549 443.7h0M590.2 399.7h0M532.5 397h0M512.7 429.5h0M523.3 428.1h0M555.1 423.2h0M541 437.5h0M573.9 425.4h0M554.4 431.4h0M573.1 407.9h0M516.2 407h0M573.5 436.5h0M500.1 421.2h0M580.6 409.1h0M558.3 440.1h0M532.1 442.8h0M517.9 402.9h0M527.8 444.6h0M536.3 403.9h0M585.2 446.4h0M552.5 425h0M498.7 427.3h0M555.1 417.7h0M577.5 403.5h0M509.3 418h0M554.6 390h0M524.8 458.5h0M530.3 391.1h0M515 425.5h0M501.8 441h0M536.1 445.9h0M562.3 397.8h0M558.2 397h0M564.2 429.9h0M554.1 405.3h0M543.4 439.7h0M589 439.3h0M571.4 435.6h0M538.2 396.2h0M514 408.9h0M572.9 407.1h0M583.6 418.4h0M560.6 397.9h0M528.7 433.8h0M593.5 442.8h0M568.9 429.3h0M523.6 430.7h0M580.2 439h0M516.6 393h0M526.1 454.3h0M516.1 407.4h0M591.9 432.5h0M514 423.3h0M563.4 435.4h0M541.3 430.4h0M503.9 430h0M520 451.4h0M540.3 426.7h0M579.4 403.6h0M576.3 408.4h0M547 397.5h0M570.5 438.1h0M553.3 400.7h0M549.7 455.4h0M511.4 400.2h0M589.2 436.9h0M524.2 440.3h0M525 402.6h0M565.7 431.5h0M581.2 405.7h0M577 399.5h0M535 429.2h0M574.7 445.3h0M499.3 426.8h0M583.8 441.6h0M566.8 434.5h0M580.1 435.5h0M589.1 435.2h0M524.4 441.4h0M576.7 447.7h0M514.6 395.8h0M548.4 442.2h0M546.8 431.3h0M578.6 394.4h0M510.5 444.5h0M564.2 424.7h0M598.2 438.6h0M589.9 441.7h0M506.5 405.8h0M506.1 409.7h0M572.7 442.9h0M556.9 447.1h0M542.4 395.2h0M524.4 393.4h0M513.5 416.8h0M515.7 434.1h0M576.2 430.9h0M583.1 433.7h0M518.8 424.2h0M552.5 430.6h0M530.4 404.4h0M542.4 433.3h0M534.6 391.9h0M556.1 455.6h0M597.6 428.5h0M522.7 445.3h0M555.6 390.4h0M550.2 427.9h0M524.7 426.9h0M517.9 417.1h0M560.1 421.7h0M543.1 389.8h0M542.9 385.8h0M602.7 419.2h0M573 436.9h0M538.9 437.9h0M549.2 429.9h0M514 430h0M523 450h0M578.1 454.4h0M532 393.2h0M523.2 396.3h0M516.5 446h0M500 411h0M557.1 434.9h0M519.5 445.7h0M528 438.8h0M551.8 394h0M576.1 415.7h0M553.1 444h0M592.7 425.8h0M523.6 429.2h0M559.5 397.6h0M551.4 395.7h0M537.8 407.5h0M528.8 397.7h0M568.6 393.7h0M532 450h0M530.9 412.1h0M521.4 403.3h0M530 415.6h0M521.4 422.3h0M502.2 425.4h0M575.8 445.8h0M600.3 413.4h0M583.5 397.9h0M560.4 392h0M530.6 446.1h0M559.3 439h0M604.7 420.6h0M580.6 387.3h0M593.9 407.6h0M564.2 437.6h0M518.1 439.9h0M602 423.7h0M541.4 451.4h0M527.8 392.4h0M573.4 438.7h0M569.9 443.1h0M592.5 401.2h0M582.9 392h0M516.1 393.6h0M572.9 411.3h0M499.3 423.8h0M595.9 426.8h0M545.4 445.4h0M563.1 441.3h0M549 416.4h0M557.8 427.2h0M582.1 450.2h0M501.9 433.2h0M534.4 415.2h0M576.5 432.8h0M552.6 411.8h0M581 401.4h0M522.9 438.9h0M575.3 395.7h0M580.4 435.6h0M569.7 400.6h0M560.1 445.9h0M584.6 442.3h0M519.2 439.6h0M529.1 450.8h0M576 398.8h0M508.6 412.9h0M577.7 460h0M582.9 447.7h0M567.8 397.6h0M501.6 425.9h0M548 396.3h0M514.1 424.7h0M517.4 426.7h0M527.8 429.7h0M591.6 430h0M500.4 411.9h0M597.5 431.7h0M603.2 426.3h0M545.9 396.6h0M564.9 419.9h0M588.4 412.2h0M520.3 439.1h0M552.1 432.4h0M556 408.3h0M509.2 426.5h0M575 390.5h0M580.8 427.8h0M533.4 398.8h0M571.8 425.4h0M538.6 413.8h0M578.1 414h0M558.8 439.7h0M537.1 424.5h0M579.2 434.8h0M513.4 403.8h0M563.2 398h0M547.2 393.3h0M595.5 414.3h0M525 452.2h0M521.4 424.8h0M592.7 418.8h0M514.8 440.6h0M569.8 409.7h0M581.9 453.3h0M556.5 449.6h0M546.7 390.5h0M538.1 414.7h0M589.7 428h0M543.7 389.2h0M522 399.1h0M553 448.9h0M558.8 432.4h0M535.4 439.2h0M533.2 418h0M502.8 435.1h0M582.2 416.9h0M509 442.3h0M561.8 448.4h0M558.3 421.3h0M570.4 407.2h0M585.4 398.3h0M529.5 401.7h0M574.6 429.2h0M537.8 419.2h0M553.5 401.2h0M533.9 418.6h0M505.3 423.3h0M501.6 425.7h0M554.6 441.6h0M510 442.3h0M549.3 421.6h0M523.4 416.3h0M551.3 426.2h0M513.3 439.7h0M593.8 437.7h0M524.9 450h0M509.9 424.5h0M508.3 404.2h0M557.8 403.2h0M584.7 443h0M518.8 442.3h0M547.6 410.2h0M527.3 397.8h0M558.5 426.4h0M503.3 435.7h0M510.3 424.5h0M550.6 409.5h0M542.1 413.5h0M560.9 399h0M510.2 405.1h0M555 420.8h0M541.3 391h0M547.5 387h0M541.4 434.6h0M522 405.3h0M504.9 443h0M529.5 412.8h0M529.9 427.8h0M592.5 438.3h0M532 421.4h0M563.2 405.3h0M581 398.8h0M531.6 410.7h0M535.9 395.5h0M519 425.9h0M578.1 439.4h0M560 439.2h0M568.4 424.1h0M583 445.7h0M523.8 458.3h0M574.4 443.7h0M545.9 449.8h0M532.7 440.2h0M504.1 414.1h0M528.5 405.2h0M534.4 418.5h0M514.2 405.5h0M510.9 413h0M510.3 415.1h0M557 423.4h0M540.5 440.5h0M547.2 451.6h0M597.5 407.2h0M506.5 415h0M537 418.9h0M527.3 405.6h0M555.8 417.4h0M522.1 429.8h0M520.8 429.4h0M579.3 390.8h0M580.1 414h0M530.2 439.4h0M528.3 403.9h0M598.9 412.2h0M572.8 437.3h0M547.2 406.2h0M569 443.8h0M592.8 426.1h0M528.4 458.7h0M547.5 390.7h0M541.8 448.8h0M550.9 417.5h0M558.4 421.4h0M591.4 431.2h0M502 422.4h0M501.7 423.9h0M507.6 414.5h0M504.2 415.1h0M555.3 436.1h0M564.1 439.7h0M526.5 412h0M524.3 416.9h0M558.3 436.8h0M500 433.7h0M558.9 419.8h0M566.4 404.5h0M559.2 443.1h0M594 423.9h0M538.7 403.1h0M559.9 441h0M528 451.6h0M590.4 436.8h0M537.4 402.3h0M562.9 438.1h0M587.4 443.7h0M570.1 389.3h0M591 438.8h0M507.2 413.8h0M503.3 434.7h0M549.7 431.3h0M509.7 440.3h0M509.8 403.1h0M515.8 437.1h0M533.4 424.5h0M588.6 395.4h0M535 439.2h0M599.6 421.2h0M587.3 433.7h0M509 445.5h0M582.6 398.6h0M569.9 400.5h0M556.5 441.3h0M552.9 416.4h0M550.3 391.2h0M507.2 419.6h0M585.1 400.9h0M573.1 433.9h0M525.5 424.5h0M557.2 416.3h0M567.1 448.8h0M529.3 396.5h0M586.7 431.4h0M587.3 392.9h0M543.4 423.9h0M581.5 395.4h0M578.4 452.8h0M548 396.6h0M581.5 430.5h0M519.3 400.7h0M560.1 435.9h0M579.1 418.9h0M550.8 428.6h0M514.7 409.7h0M570.9 436.8h0M522.2 409.8h0M572.5 444.8h0M536.8 450h0M549.4 410.5h0M582.3 391.8h0M586.2 415.4h0M562.8 424.3h0M538.4 449.5h0M511.3 434.9h0M574.2 392.2h0M500.5 418.5h0M588.3 443.6h0M578.6 424.7h0M579.6 435.8h0M549.3 392.1h0M575.5 450.4h0M576.3 404.4h0M555.9 455.2h0M558.4 448.3h0M597.5 409.4h0M512.8 416.4h0M584.4 413.2h0M506.8 407.3h0M594.5 438.3h0M517.1 445h0M519.7 440.8h0M572.8 453.1h0M589.9 435.5h0M572.5 392.9h0M595.3 417h0M581.4 413.1h0M515.5 437.9h0M539.2 401.2h0M559.5 430.1h0M506.9 430.8h0M589.4 427.7h0M578.8 396.5h0M563.8 443h0M530 448.2h0M577.8 403.1h0M541 425.1h0M503.6 417.8h0M524.6 403.2h0M508.7 444.4h0M570.9 436.2h0M529.9 442h0M549.1 426.3h0M561.4 410.1h0M505.8 410.2h0M543.6 391h0M544.3 416.8h0M559 417.1h0M593.4 435.5h0M589.3 396.2h0M522.4 418.1h0M560 412.9h0M583.9 439.7h0M537 414.4h0M585.6 446.6h0M565.1 447h0M538 430.5h0M507.2 414.1h0M565.1 388.7h0M588.6 446.8h0M554.8 427.3h0M538.3 432.5h0M541.1 395.8h0M567.2 428.3h0M513.3 405.8h0M586.1 400.7h0M523.4 395.5h0M556.9 398.4h0M524.2 417.3h0M579.2 410.5h0M501.8 427.4h0M530.1 390.2h0M548.2 424.3h0M514.4 436.7h0M555.7 418.5h0M525.5 418.3h0M576 439.9h0M547.4 396.3h0M580.9 433.5h0M517.8 446.7h0M561.7 451.2h0M590.3 393.1h0M508.5 402.2h0M571.6 387.5h0M605.2 412.5h0M562 451.5h0M546.4 384h0M516.7 449.2h0M594.3 448.7h0M539.5 385.3h0M591.4 448.6h0M530.3 386h0M562.3 385.3h0M572.7 458.6h0M551.8 456.6h0M582.8 455.2h0M527 461.4h0M548.1 384.8h0M542.3 384.4h0M569.8 388.3h0M605 431h0M542.5 455.7h0M506.6 444.7h0M499.5 438.8h0M531.1 458h0M530.5 386.9h0M554.6 456.6h0M537.6 455.7h0M514.4 389.7h0M580.4 461.2h0M498.4 435.4h0M521.9 391.8h0M518 451.6h0M558.2 455.4h0M600.5 438.2h0M496.7 420.9h0M602.7 433.3h0M531.8 458.8h0M588.6 390.8h0M508.7 401h0M580.7 459.9h0M526.1 460.6h0M497.4 415.3h0M567.7 452.9h0M595.5 399.6h0M499.6 406.5h0M596.7 444.9h0M583.5 387.1h0M563.6 386h0M569.3 386.7h0M510.7 448.9h0M530.1 459.5h0M541.6 455.2h0M584.8 452.4h0M597.5 401.6h0M569.6 453.6h0M567.6 387.5h0M503 405.1h0M510.8 400.6h0M523.3 460.4h0M547.7 457.5h0M568.7 386.5h0M588 389.3h0M601.4 438.9h0M578.1 388h0M499.6 438.1h0M497.9 420.1h0M549.1 456.4h0M598.5 441.9h0M497.1 425.6h0M557.9 455h0M589.6 391.4h0M520.6 392.3h0M523.2 390.2h0M539.5 385.3h0M554.6 384h0M525.4 388.6h0M571.6 457.4h0M583.9 387.3h0M519.2 453h0M529.9 387.5h0M527.8 460.9h0M508.6 450.3h0M496.2 430.2h0M528.3 388.3h0M549.7 384.3h0M552.4 385.3h0M567.2 450.2h0M510.7 400.1h0M533.6 387.1h0M609.4 419.9h0M609.7 401.8h0M610.2 432.4h0M606.7 435h0M621 431.1h0M607.4 408.3h0M605.9 400.4h0M619 411.5h0M611.7 438.9h0M618.9 428.4h0M621.4 431.9h0M620.2 427.5h0M611 426.7h0M616.5 410.4h0M612.3 436.9h0M621.7 426h0M617.2 421.5h0M609.8 410.7h0M605 442.3h0M615.5 413.8h0M609.6 417.5h0M616.9 421.4h0M617.3 420.2h0M607 397.1h0M605.3 402.5h0M611.8 425.5h0M619.1 417.9h0M621 415.1h0M620.7 414.7h0M612 414.5h0M620.7 429.9h0M608.7 413.9h0" stroke="#0072bd" stroke-width="5.3" stroke-linecap="round" fill="none"/>
<path d="M501 421.4 L500.7 428.2 L502.8 433.1 L502.9 433.7 L503.1 434.2 L504.1 439.2 L508.4 442 L508.8 442.4 L509.2 442.7 L509.5 443.1 L509.9 443.5 L510.1 444 L510.4 444.5 L510.5 444.8 L511.8 444.4 L512.4 444.2 L512.9 444.1 L513.4 444.1 L514 444.1 L514.5 444.2 L515.1 444.3 L515.6 444.5 L516.1 444.7 L516.5 445 L517 445.3 L517.4 445.7 L522.5 450.8 L522.9 451.2 L523.2 451.7 L523.5 452.1 L523.7 452.6 L525.1 456 L526.5 456.8 L528.4 456 L533.1 453.1 L533.6 452.9 L534 452.7 L539.1 450.7 L539.6 450.5 L540.1 450.4 L540.6 450.3 L541.2 450.3 L541.7 450.3 L542.2 450.4 L542.7 450.5 L543.2 450.7 L543.7 451 L547.5 453 L550.1 452.4 L550.7 452.3 L551.3 452.3 L551.9 452.3 L552.5 452.4 L553 452.6 L554.6 453.1 L557.4 449.8 L557.8 449.4 L558.2 449 L558.6 448.7 L559.1 448.4 L563.4 446.2 L563.9 446 L564.4 445.8 L564.9 445.7 L565.4 445.6 L566 445.6 L566.5 445.6 L567 445.7 L567.5 445.9 L568 446 L568.5 446.3 L569 446.5 L569.4 446.9 L569.8 447.2 L570.2 447.6 L570.5 448 L574.6 454.2 L577.4 457 L577.5 457 L578.8 454.9 L579.2 454.3 L583.5 448.8 L583.8 448.4 L584.3 448 L584.7 447.6 L585.2 447.3 L585.7 447.1 L586.3 446.9 L591.9 445.3 L594.1 441.8 L598.2 434.5 L600.2 429.6 L602.2 422.5 L602.9 419.3 L601.4 414.4 L598.6 409.8 L594.5 403.7 L589.4 398.6 L589.1 398.2 L584.1 392.2 L580.9 390.1 L577.1 391.9 L576.6 392.2 L576 392.3 L575.4 392.4 L574.9 392.5 L574.3 392.5 L573.7 392.4 L568.2 391.4 L567.7 391.3 L567.1 391.1 L561.1 388.7 L556.6 388.1 L553.2 389.4 L552.7 389.5 L552.2 389.6 L551.6 389.7 L551.1 389.7 L550.6 389.7 L550.1 389.6 L549.6 389.4 L544.1 387.6 L541.2 389.7 L540.8 389.9 L540.3 390.2 L539.8 390.4 L539.3 390.5 L538.8 390.6 L538.3 390.7 L537.8 390.7 L537.2 390.6 L532.1 389.9 L528.7 392 L528.6 392 L523.5 395 L523 395.3 L522.5 395.5 L522 395.7 L521.4 395.8 L520.9 395.8 L520.3 395.8 L519.8 395.7 L519.2 395.6 L515.1 394.5 L514.6 395 L513.9 401.2 L513.8 401.7 L513.6 402.2 L513.4 402.7 L513.2 403.2 L512.9 403.6 L512.6 404 L512.3 404.4 L511.9 404.8 L511.5 405.1 L505.4 409.2 L504.8 409.5 L504.3 409.7 L503.7 409.9 L502.7 410.2 L501.5 414.9 L501 421.4 Z" fill="#0072bd"/>
<g font-size="15.2" font-weight="bold" fill="#262626" stroke="#262626" stroke-width="0.3">
<text x="392" y="535.8" text-anchor="middle">0</text>
<text x="447" y="535.8" text-anchor="middle">2000</text>
<text x="502" y="535.8" text-anchor="middle">4000</text>
<text x="556.9" y="535.8" text-anchor="middle">6000</text>
<text x="611.9" y="535.8" text-anchor="middle">8000</text>
<text x="666.9" y="535.8" text-anchor="middle">10000</text>
<text x="387.4" y="523.1" text-anchor="end">-400</text>
<text x="387.4" y="472.4" text-anchor="end">-200</text>
<text x="387.4" y="421.8" text-anchor="end">0</text>
<text x="387.4" y="371.1" text-anchor="end">200</text>
<text x="387.4" y="320.5" text-anchor="end">400</text>
</g>
</g>
<g font-size="17" font-weight="bold" fill="#262626" stroke="#262626" stroke-width="0.25">
<text x="173.4" y="252" text-anchor="middle">P (d)</text>
<text x="533" y="252" text-anchor="middle">P (d)</text>
<text x="153.6" y="556">T<tspan dy="8" font-size="13.2">e</tspan><tspan dy="-8">(K)</tspan></text>
<text x="509.2" y="556">T<tspan dy="8" font-size="13.2">e</tspan><tspan dy="-8">(K)</tspan></text>
<text transform="translate(357.7 109.8) rotate(-90)" text-anchor="middle">RV (km/s)</text>
<text transform="translate(354.2 417.1) rotate(-90)" text-anchor="middle">RV (km/s)</text>
</g>
<text transform="translate(12.7 133.3) rotate(-90)" font-size="16.4" fill="#262626"><tspan x="0">log</tspan><tspan x="21.4" font-size="19">(</tspan><tspan x="29.2" font-weight="bold">g</tspan><tspan x="38.6" font-size="19">)</tspan></text>
<text transform="translate(12.7 439.3) rotate(-90)" font-size="16.4" fill="#262626"><tspan x="0">log</tspan><tspan x="21.4" font-size="19">(</tspan><tspan x="29.2" font-weight="bold">g</tspan><tspan x="38.6" font-size="19">)</tspan></text>
<g font-size="16" fill="#111" stroke="#111" stroke-width="0.2">
<text y="281.8"><tspan x="91" textLength="20.7" lengthAdjust="spacingAndGlyphs">(a)</tspan> <tspan x="119.6" textLength="43.5" lengthAdjust="spacingAndGlyphs">log(g)</tspan> <tspan x="169.9" textLength="44.7" lengthAdjust="spacingAndGlyphs">versus</tspan> <tspan x="220.1" textLength="12.5" lengthAdjust="spacingAndGlyphs">P</tspan></text>
<text y="281.8"><tspan x="451.3" textLength="20.6" lengthAdjust="spacingAndGlyphs">(b)</tspan> <tspan x="481.2" textLength="22.8" lengthAdjust="spacingAndGlyphs">RV</tspan> <tspan x="510.9" textLength="44.7" lengthAdjust="spacingAndGlyphs">versus</tspan> <tspan x="561.1" textLength="12.5" lengthAdjust="spacingAndGlyphs">P</tspan></text>
<text y="590.3"><tspan x="94.4" textLength="20.2" lengthAdjust="spacingAndGlyphs">(c)</tspan> <tspan x="123.2" textLength="42.1" lengthAdjust="spacingAndGlyphs">log(g)</tspan> <tspan x="172.9" textLength="44.5" lengthAdjust="spacingAndGlyphs">versus</tspan> <tspan x="224.3" textLength="11.8" lengthAdjust="spacingAndGlyphs">T</tspan><tspan x="235.9" dy="2.2" font-size="11.8" textLength="5.6" lengthAdjust="spacingAndGlyphs">e</tspan></text>
<text y="590.3"><tspan x="450.1" textLength="21.1" lengthAdjust="spacingAndGlyphs">(d)</tspan> <tspan x="480.5" textLength="23" lengthAdjust="spacingAndGlyphs">RV</tspan> <tspan x="509.7" textLength="44.7" lengthAdjust="spacingAndGlyphs">versus</tspan> <tspan x="561.1" textLength="12.5" lengthAdjust="spacingAndGlyphs">T</tspan><tspan x="573.8" dy="2.2" font-size="11.8" textLength="6.1" lengthAdjust="spacingAndGlyphs">e</tspan></text>
</g>
</svg></body></html>
